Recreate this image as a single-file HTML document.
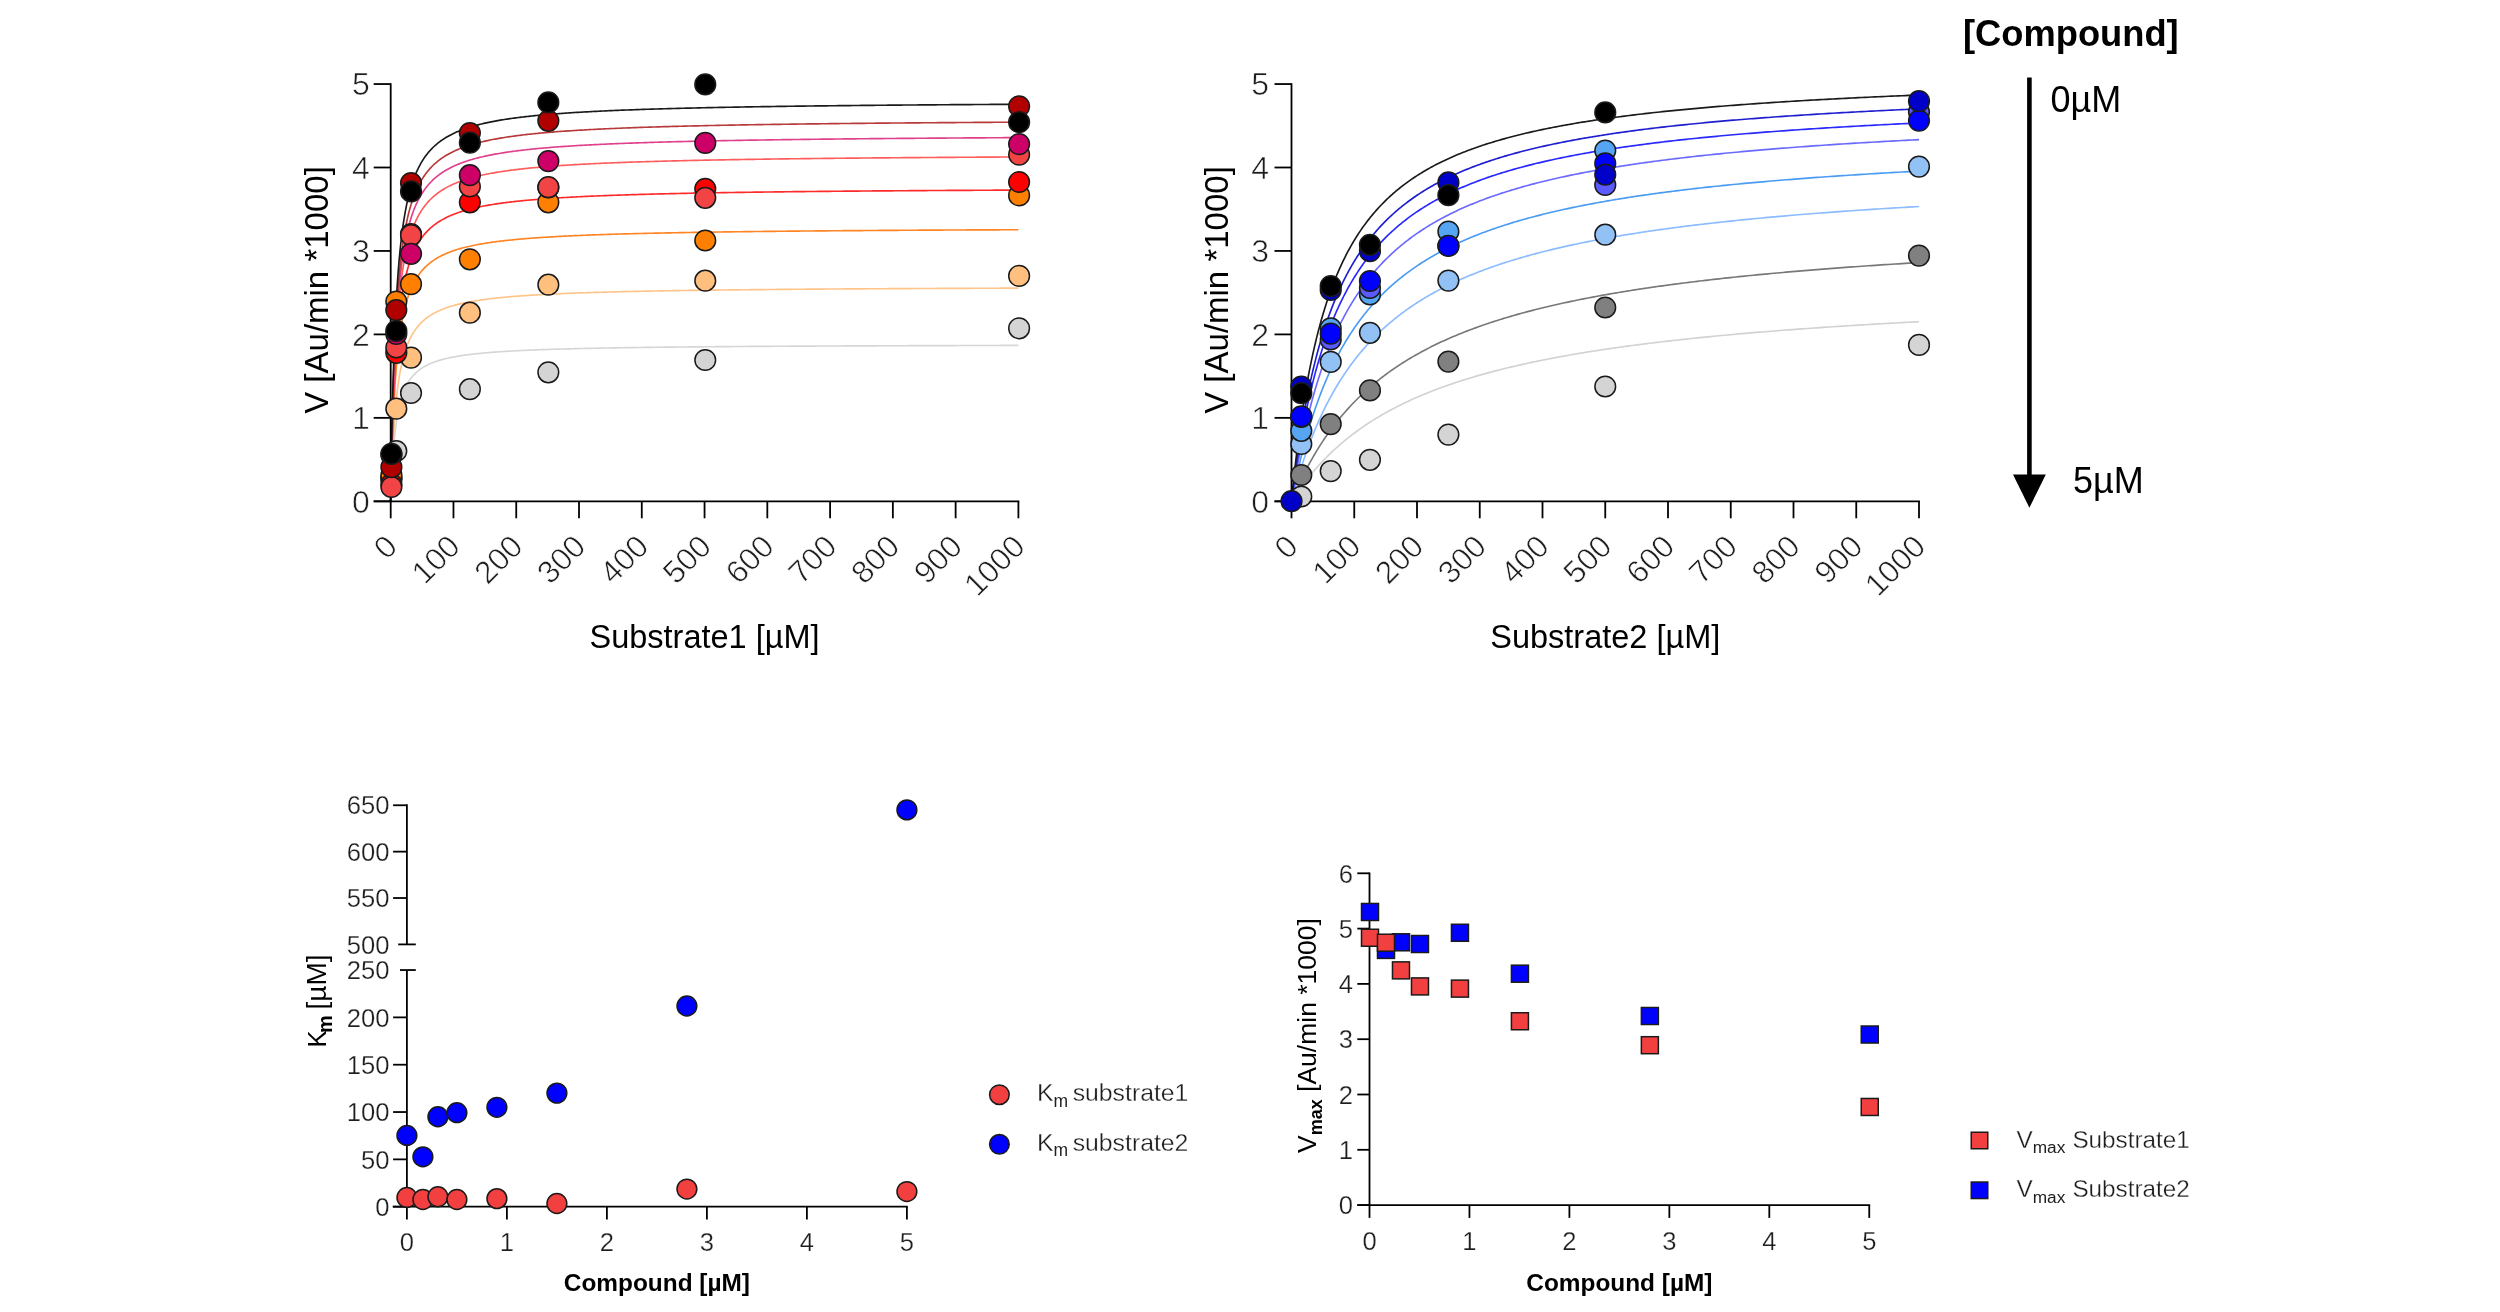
<!DOCTYPE html>
<html><head><meta charset="utf-8"><title>Enzyme kinetics</title>
<style>
html,body{margin:0;padding:0;background:#fff;}
body{width:2500px;height:1312px;overflow:hidden;font-family:"Liberation Sans", sans-serif;}
svg{display:block;will-change:transform;}
</style></head><body>
<svg width="2500" height="1312" viewBox="0 0 2500 1312" font-family='"Liberation Sans", sans-serif'>
<rect width="2500" height="1312" fill="#fff"/>
<polyline fill="none" stroke="#d6d6d6" stroke-width="1.65" stroke-linejoin="round" points="390.7,501.3 390.7,501.27 390.71,501.15 390.71,500.93 390.72,500.61 390.74,500.17 390.76,499.62 390.79,498.95 390.81,498.17 390.85,497.26 390.89,496.24 390.93,495.11 390.98,493.87 391.03,492.52 391.09,491.06 391.16,489.51 391.23,487.86 391.3,486.13 391.38,484.32 391.47,482.43 391.56,480.48 391.66,478.46 391.76,476.39 391.87,474.27 391.99,472.11 392.11,469.91 392.24,467.69 392.37,465.44 392.51,463.18 392.65,460.9 392.8,458.62 392.96,456.34 393.12,454.07 393.29,451.8 393.47,449.55 393.65,447.31 393.84,445.09 394.04,442.89 394.24,440.72 394.45,438.58 394.66,436.47 394.88,434.39 395.11,432.34 395.34,430.33 395.58,428.36 395.83,426.42 396.09,424.52 396.35,422.66 396.61,420.84 396.89,419.06 397.17,417.32 397.46,415.62 397.75,413.95 398.06,412.33 398.36,410.74 398.68,409.2 399,407.69 399.33,406.22 399.67,404.79 400.01,403.39 400.36,402.03 400.72,400.7 401.09,399.41 401.46,398.16 401.84,396.93 402.22,395.74 402.62,394.58 403.02,393.45 403.43,392.35 403.84,391.29 404.27,390.25 404.7,389.23 405.13,388.25 405.58,387.29 406.03,386.36 406.49,385.45 406.96,384.56 407.43,383.71 407.91,382.87 408.4,382.05 408.9,381.26 409.4,380.49 409.91,379.74 410.43,379.01 410.96,378.3 411.49,377.6 412.04,376.93 412.59,376.27 413.14,375.63 413.71,375.01 414.28,374.4 414.86,373.81 415.45,373.23 416.04,372.67 416.65,372.12 417.26,371.59 417.88,371.07 418.5,370.56 419.14,370.07 419.78,369.58 420.43,369.11 421.09,368.65 421.76,368.21 422.43,367.77 423.11,367.35 423.8,366.93 424.5,366.52 425.2,366.13 425.92,365.74 426.64,365.36 427.37,365 428.11,364.64 428.85,364.29 429.6,363.94 430.37,363.61 431.13,363.28 431.91,362.96 432.7,362.65 433.49,362.34 434.29,362.04 435.1,361.75 435.92,361.47 436.75,361.19 437.58,360.91 438.43,360.65 439.28,360.38 440.14,360.13 441,359.88 441.88,359.63 442.76,359.4 443.65,359.16 444.55,358.93 445.46,358.71 446.38,358.49 447.3,358.27 448.24,358.06 449.18,357.85 450.13,357.65 451.09,357.45 452.06,357.26 453.03,357.07 454.01,356.88 455.01,356.7 456.01,356.52 457.02,356.35 458.03,356.17 459.06,356 460.09,355.84 461.14,355.68 462.19,355.52 463.25,355.36 464.32,355.21 465.39,355.06 466.48,354.91 467.57,354.77 468.67,354.62 469.79,354.48 470.9,354.35 472.03,354.21 473.17,354.08 474.31,353.95 475.47,353.82 476.63,353.7 477.8,353.58 478.98,353.46 480.17,353.34 481.37,353.22 482.57,353.11 483.79,353 485.01,352.89 486.24,352.78 487.49,352.67 488.74,352.57 489.99,352.46 491.26,352.36 492.54,352.26 493.82,352.17 495.11,352.07 496.42,351.98 497.73,351.88 499.05,351.79 500.38,351.7 501.71,351.61 503.06,351.53 504.42,351.44 505.78,351.36 507.15,351.27 508.53,351.19 509.93,351.11 511.32,351.03 512.73,350.96 514.15,350.88 515.58,350.8 517.01,350.73 518.46,350.66 519.91,350.59 521.37,350.52 522.84,350.45 524.32,350.38 525.81,350.31 527.31,350.24 528.82,350.18 530.33,350.11 531.86,350.05 533.39,349.99 534.94,349.93 536.49,349.86 538.05,349.8 539.62,349.75 541.2,349.69 542.79,349.63 544.39,349.57 546,349.52 547.61,349.46 549.24,349.41 550.87,349.36 552.51,349.3 554.17,349.25 555.83,349.2 557.5,349.15 559.18,349.1 560.87,349.05 562.57,349 564.28,348.96 565.99,348.91 567.72,348.86 569.46,348.82 571.2,348.77 572.95,348.73 574.72,348.68 576.49,348.64 578.27,348.6 580.06,348.55 581.86,348.51 583.67,348.47 585.49,348.43 587.32,348.39 589.16,348.35 591,348.31 592.86,348.27 594.73,348.23 596.6,348.2 598.48,348.16 600.38,348.12 602.28,348.09 604.19,348.05 606.12,348.02 608.05,347.98 609.99,347.95 611.94,347.91 613.9,347.88 615.87,347.85 617.84,347.81 619.83,347.78 621.83,347.75 623.84,347.72 625.85,347.69 627.88,347.66 629.91,347.63 631.96,347.6 634.01,347.57 636.07,347.54 638.15,347.51 640.23,347.48 642.32,347.45 644.42,347.42 646.53,347.4 648.66,347.37 650.79,347.34 652.93,347.31 655.08,347.29 657.23,347.26 659.4,347.24 661.58,347.21 663.77,347.19 665.97,347.16 668.17,347.14 670.39,347.11 672.62,347.09 674.85,347.06 677.1,347.04 679.35,347.02 681.62,346.99 683.89,346.97 686.17,346.95 688.47,346.93 690.77,346.9 693.09,346.88 695.41,346.86 697.74,346.84 700.08,346.82 702.43,346.8 704.8,346.78 707.17,346.76 709.55,346.74 711.94,346.72 714.34,346.7 716.75,346.68 719.17,346.66 721.6,346.64 724.04,346.62 726.49,346.6 728.95,346.58 731.42,346.56 733.9,346.54 736.38,346.53 738.88,346.51 741.39,346.49 743.91,346.47 746.44,346.46 748.97,346.44 751.52,346.42 754.08,346.4 756.65,346.39 759.22,346.37 761.81,346.36 764.41,346.34 767.01,346.32 769.63,346.31 772.26,346.29 774.89,346.28 777.54,346.26 780.2,346.25 782.86,346.23 785.54,346.22 788.22,346.2 790.92,346.19 793.63,346.17 796.34,346.16 799.07,346.14 801.8,346.13 804.55,346.12 807.3,346.1 810.07,346.09 812.85,346.07 815.63,346.06 818.43,346.05 821.23,346.03 824.05,346.02 826.87,346.01 829.71,346 832.56,345.98 835.41,345.97 838.28,345.96 841.15,345.95 844.04,345.93 846.93,345.92 849.84,345.91 852.76,345.9 855.68,345.88 858.62,345.87 861.56,345.86 864.52,345.85 867.49,345.84 870.46,345.83 873.45,345.82 876.45,345.81 879.45,345.79 882.47,345.78 885.5,345.77 888.54,345.76 891.58,345.75 894.64,345.74 897.71,345.73 900.79,345.72 903.87,345.71 906.97,345.7 910.08,345.69 913.2,345.68 916.33,345.67 919.47,345.66 922.62,345.65 925.77,345.64 928.94,345.63 932.12,345.62 935.31,345.61 938.51,345.6 941.72,345.59 944.95,345.58 948.18,345.57 951.42,345.57 954.67,345.56 957.93,345.55 961.2,345.54 964.48,345.53 967.78,345.52 971.08,345.51 974.39,345.5 977.72,345.5 981.05,345.49 984.39,345.48 987.75,345.47 991.11,345.46 994.49,345.45 997.87,345.45 1001.27,345.44 1004.67,345.43 1008.09,345.42 1011.52,345.42 1014.95,345.41 1018.4,345.4"/>
<polyline fill="none" stroke="#ffc48a" stroke-width="1.65" stroke-linejoin="round" points="390.7,501.3 390.7,501.26 390.71,501.11 390.71,500.85 390.72,500.45 390.74,499.91 390.76,499.23 390.79,498.4 390.81,497.43 390.85,496.31 390.89,495.05 390.93,493.65 390.98,492.1 391.03,490.42 391.09,488.61 391.16,486.67 391.23,484.61 391.3,482.43 391.38,480.15 391.47,477.78 391.56,475.3 391.66,472.75 391.76,470.12 391.87,467.42 391.99,464.66 392.11,461.85 392.24,458.99 392.37,456.1 392.51,453.17 392.65,450.23 392.8,447.26 392.96,444.29 393.12,441.32 393.29,438.35 393.47,435.38 393.65,432.43 393.84,429.49 394.04,426.58 394.24,423.69 394.45,420.83 394.66,418.01 394.88,415.22 395.11,412.46 395.34,409.75 395.58,407.08 395.83,404.45 396.09,401.87 396.35,399.33 396.61,396.85 396.89,394.41 397.17,392.01 397.46,389.67 397.75,387.38 398.06,385.13 398.36,382.94 398.68,380.79 399,378.69 399.33,376.64 399.67,374.64 400.01,372.69 400.36,370.78 400.72,368.92 401.09,367.1 401.46,365.33 401.84,363.6 402.22,361.92 402.62,360.27 403.02,358.67 403.43,357.11 403.84,355.59 404.27,354.11 404.7,352.66 405.13,351.26 405.58,349.88 406.03,348.55 406.49,347.24 406.96,345.98 407.43,344.74 407.91,343.53 408.4,342.36 408.9,341.22 409.4,340.1 409.91,339.02 410.43,337.96 410.96,336.93 411.49,335.92 412.04,334.94 412.59,333.99 413.14,333.05 413.71,332.15 414.28,331.26 414.86,330.4 415.45,329.56 416.04,328.74 416.65,327.94 417.26,327.16 417.88,326.39 418.5,325.65 419.14,324.93 419.78,324.22 420.43,323.53 421.09,322.86 421.76,322.2 422.43,321.56 423.11,320.93 423.8,320.32 424.5,319.72 425.2,319.14 425.92,318.57 426.64,318.01 427.37,317.47 428.11,316.94 428.85,316.42 429.6,315.91 430.37,315.42 431.13,314.93 431.91,314.46 432.7,313.99 433.49,313.54 434.29,313.1 435.1,312.66 435.92,312.24 436.75,311.83 437.58,311.42 438.43,311.02 439.28,310.64 440.14,310.26 441,309.88 441.88,309.52 442.76,309.16 443.65,308.82 444.55,308.47 445.46,308.14 446.38,307.81 447.3,307.49 448.24,307.18 449.18,306.87 450.13,306.57 451.09,306.27 452.06,305.98 453.03,305.7 454.01,305.42 455.01,305.15 456.01,304.88 457.02,304.62 458.03,304.36 459.06,304.11 460.09,303.86 461.14,303.62 462.19,303.38 463.25,303.14 464.32,302.91 465.39,302.69 466.48,302.47 467.57,302.25 468.67,302.04 469.79,301.83 470.9,301.63 472.03,301.42 473.17,301.23 474.31,301.03 475.47,300.84 476.63,300.66 477.8,300.47 478.98,300.29 480.17,300.11 481.37,299.94 482.57,299.77 483.79,299.6 485.01,299.43 486.24,299.27 487.49,299.11 488.74,298.95 489.99,298.8 491.26,298.65 492.54,298.5 493.82,298.35 495.11,298.21 496.42,298.07 497.73,297.93 499.05,297.79 500.38,297.65 501.71,297.52 503.06,297.39 504.42,297.26 505.78,297.14 507.15,297.01 508.53,296.89 509.93,296.77 511.32,296.65 512.73,296.53 514.15,296.42 515.58,296.3 517.01,296.19 518.46,296.08 519.91,295.97 521.37,295.87 522.84,295.76 524.32,295.66 525.81,295.56 527.31,295.46 528.82,295.36 530.33,295.26 531.86,295.17 533.39,295.07 534.94,294.98 536.49,294.89 538.05,294.8 539.62,294.71 541.2,294.62 542.79,294.53 544.39,294.45 546,294.36 547.61,294.28 549.24,294.2 550.87,294.12 552.51,294.04 554.17,293.96 555.83,293.88 557.5,293.81 559.18,293.73 560.87,293.66 562.57,293.59 564.28,293.51 565.99,293.44 567.72,293.37 569.46,293.3 571.2,293.23 572.95,293.17 574.72,293.1 576.49,293.04 578.27,292.97 580.06,292.91 581.86,292.84 583.67,292.78 585.49,292.72 587.32,292.66 589.16,292.6 591,292.54 592.86,292.48 594.73,292.43 596.6,292.37 598.48,292.31 600.38,292.26 602.28,292.2 604.19,292.15 606.12,292.1 608.05,292.04 609.99,291.99 611.94,291.94 613.9,291.89 615.87,291.84 617.84,291.79 619.83,291.74 621.83,291.69 623.84,291.64 625.85,291.6 627.88,291.55 629.91,291.5 631.96,291.46 634.01,291.41 636.07,291.37 638.15,291.33 640.23,291.28 642.32,291.24 644.42,291.2 646.53,291.15 648.66,291.11 650.79,291.07 652.93,291.03 655.08,290.99 657.23,290.95 659.4,290.91 661.58,290.88 663.77,290.84 665.97,290.8 668.17,290.76 670.39,290.72 672.62,290.69 674.85,290.65 677.1,290.62 679.35,290.58 681.62,290.55 683.89,290.51 686.17,290.48 688.47,290.44 690.77,290.41 693.09,290.38 695.41,290.34 697.74,290.31 700.08,290.28 702.43,290.25 704.8,290.22 707.17,290.19 709.55,290.16 711.94,290.13 714.34,290.1 716.75,290.07 719.17,290.04 721.6,290.01 724.04,289.98 726.49,289.95 728.95,289.92 731.42,289.89 733.9,289.87 736.38,289.84 738.88,289.81 741.39,289.78 743.91,289.76 746.44,289.73 748.97,289.71 751.52,289.68 754.08,289.65 756.65,289.63 759.22,289.6 761.81,289.58 764.41,289.56 767.01,289.53 769.63,289.51 772.26,289.48 774.89,289.46 777.54,289.44 780.2,289.41 782.86,289.39 785.54,289.37 788.22,289.35 790.92,289.32 793.63,289.3 796.34,289.28 799.07,289.26 801.8,289.24 804.55,289.22 807.3,289.19 810.07,289.17 812.85,289.15 815.63,289.13 818.43,289.11 821.23,289.09 824.05,289.07 826.87,289.05 829.71,289.03 832.56,289.01 835.41,289 838.28,288.98 841.15,288.96 844.04,288.94 846.93,288.92 849.84,288.9 852.76,288.88 855.68,288.87 858.62,288.85 861.56,288.83 864.52,288.81 867.49,288.8 870.46,288.78 873.45,288.76 876.45,288.75 879.45,288.73 882.47,288.71 885.5,288.7 888.54,288.68 891.58,288.66 894.64,288.65 897.71,288.63 900.79,288.62 903.87,288.6 906.97,288.59 910.08,288.57 913.2,288.55 916.33,288.54 919.47,288.52 922.62,288.51 925.77,288.5 928.94,288.48 932.12,288.47 935.31,288.45 938.51,288.44 941.72,288.42 944.95,288.41 948.18,288.4 951.42,288.38 954.67,288.37 957.93,288.36 961.2,288.34 964.48,288.33 967.78,288.32 971.08,288.3 974.39,288.29 977.72,288.28 981.05,288.26 984.39,288.25 987.75,288.24 991.11,288.23 994.49,288.21 997.87,288.2 1001.27,288.19 1004.67,288.18 1008.09,288.17 1011.52,288.15 1014.95,288.14 1018.4,288.13"/>
<polyline fill="none" stroke="#ff8424" stroke-width="1.65" stroke-linejoin="round" points="390.7,501.3 390.7,501.25 390.71,501.05 390.71,500.68 390.72,500.14 390.74,499.42 390.76,498.5 390.79,497.38 390.81,496.07 390.85,494.56 390.89,492.85 390.93,490.96 390.98,488.87 391.03,486.61 391.09,484.17 391.16,481.56 391.23,478.8 391.3,475.89 391.38,472.84 391.47,469.66 391.56,466.36 391.66,462.95 391.76,459.45 391.87,455.86 391.99,452.2 392.11,448.48 392.24,444.7 392.37,440.88 392.51,437.03 392.65,433.15 392.8,429.26 392.96,425.37 393.12,421.47 393.29,417.59 393.47,413.72 393.65,409.88 393.84,406.06 394.04,402.28 394.24,398.54 394.45,394.85 394.66,391.2 394.88,387.6 395.11,384.06 395.34,380.57 395.58,377.14 395.83,373.78 396.09,370.48 396.35,367.24 396.61,364.06 396.89,360.96 397.17,357.91 397.46,354.94 397.75,352.03 398.06,349.19 398.36,346.41 398.68,343.7 399,341.05 399.33,338.46 399.67,335.94 400.01,333.49 400.36,331.09 400.72,328.75 401.09,326.48 401.46,324.26 401.84,322.1 402.22,319.99 402.62,317.94 403.02,315.94 403.43,314 403.84,312.1 404.27,310.26 404.7,308.46 405.13,306.72 405.58,305.01 406.03,303.36 406.49,301.74 406.96,300.17 407.43,298.64 407.91,297.15 408.4,295.7 408.9,294.29 409.4,292.91 409.91,291.57 410.43,290.27 410.96,289 411.49,287.76 412.04,286.55 412.59,285.38 413.14,284.23 413.71,283.12 414.28,282.03 414.86,280.97 415.45,279.94 416.04,278.94 416.65,277.95 417.26,277 417.88,276.07 418.5,275.16 419.14,274.27 419.78,273.4 420.43,272.56 421.09,271.74 421.76,270.93 422.43,270.15 423.11,269.39 423.8,268.64 424.5,267.91 425.2,267.2 425.92,266.51 426.64,265.83 427.37,265.16 428.11,264.52 428.85,263.89 429.6,263.27 430.37,262.66 431.13,262.08 431.91,261.5 432.7,260.94 433.49,260.39 434.29,259.85 435.1,259.32 435.92,258.81 436.75,258.3 437.58,257.81 438.43,257.33 439.28,256.86 440.14,256.4 441,255.95 441.88,255.5 442.76,255.07 443.65,254.65 444.55,254.24 445.46,253.83 446.38,253.43 447.3,253.04 448.24,252.66 449.18,252.29 450.13,251.93 451.09,251.57 452.06,251.22 453.03,250.87 454.01,250.54 455.01,250.21 456.01,249.88 457.02,249.56 458.03,249.25 459.06,248.95 460.09,248.65 461.14,248.36 462.19,248.07 463.25,247.79 464.32,247.51 465.39,247.24 466.48,246.97 467.57,246.71 468.67,246.45 469.79,246.2 470.9,245.95 472.03,245.71 473.17,245.47 474.31,245.24 475.47,245.01 476.63,244.78 477.8,244.56 478.98,244.34 480.17,244.13 481.37,243.92 482.57,243.71 483.79,243.51 485.01,243.31 486.24,243.11 487.49,242.92 488.74,242.73 489.99,242.54 491.26,242.36 492.54,242.18 493.82,242 495.11,241.83 496.42,241.66 497.73,241.49 499.05,241.32 500.38,241.16 501.71,241 503.06,240.84 504.42,240.69 505.78,240.54 507.15,240.39 508.53,240.24 509.93,240.09 511.32,239.95 512.73,239.81 514.15,239.67 515.58,239.54 517.01,239.4 518.46,239.27 519.91,239.14 521.37,239.01 522.84,238.88 524.32,238.76 525.81,238.64 527.31,238.52 528.82,238.4 530.33,238.28 531.86,238.17 533.39,238.05 534.94,237.94 536.49,237.83 538.05,237.72 539.62,237.61 541.2,237.51 542.79,237.4 544.39,237.3 546,237.2 547.61,237.1 549.24,237 550.87,236.91 552.51,236.81 554.17,236.72 555.83,236.62 557.5,236.53 559.18,236.44 560.87,236.35 562.57,236.27 564.28,236.18 565.99,236.09 567.72,236.01 569.46,235.93 571.2,235.84 572.95,235.76 574.72,235.68 576.49,235.6 578.27,235.53 580.06,235.45 581.86,235.37 583.67,235.3 585.49,235.23 587.32,235.15 589.16,235.08 591,235.01 592.86,234.94 594.73,234.87 596.6,234.8 598.48,234.74 600.38,234.67 602.28,234.6 604.19,234.54 606.12,234.48 608.05,234.41 609.99,234.35 611.94,234.29 613.9,234.23 615.87,234.17 617.84,234.11 619.83,234.05 621.83,233.99 623.84,233.93 625.85,233.88 627.88,233.82 629.91,233.77 631.96,233.71 634.01,233.66 636.07,233.6 638.15,233.55 640.23,233.5 642.32,233.45 644.42,233.4 646.53,233.35 648.66,233.3 650.79,233.25 652.93,233.2 655.08,233.15 657.23,233.1 659.4,233.06 661.58,233.01 663.77,232.96 665.97,232.92 668.17,232.87 670.39,232.83 672.62,232.79 674.85,232.74 677.1,232.7 679.35,232.66 681.62,232.62 683.89,232.57 686.17,232.53 688.47,232.49 690.77,232.45 693.09,232.41 695.41,232.37 697.74,232.34 700.08,232.3 702.43,232.26 704.8,232.22 707.17,232.18 709.55,232.15 711.94,232.11 714.34,232.08 716.75,232.04 719.17,232 721.6,231.97 724.04,231.93 726.49,231.9 728.95,231.87 731.42,231.83 733.9,231.8 736.38,231.77 738.88,231.73 741.39,231.7 743.91,231.67 746.44,231.64 748.97,231.61 751.52,231.58 754.08,231.55 756.65,231.52 759.22,231.49 761.81,231.46 764.41,231.43 767.01,231.4 769.63,231.37 772.26,231.34 774.89,231.31 777.54,231.29 780.2,231.26 782.86,231.23 785.54,231.2 788.22,231.18 790.92,231.15 793.63,231.12 796.34,231.1 799.07,231.07 801.8,231.05 804.55,231.02 807.3,231 810.07,230.97 812.85,230.95 815.63,230.92 818.43,230.9 821.23,230.87 824.05,230.85 826.87,230.83 829.71,230.8 832.56,230.78 835.41,230.76 838.28,230.73 841.15,230.71 844.04,230.69 846.93,230.67 849.84,230.64 852.76,230.62 855.68,230.6 858.62,230.58 861.56,230.56 864.52,230.54 867.49,230.52 870.46,230.5 873.45,230.48 876.45,230.46 879.45,230.44 882.47,230.42 885.5,230.4 888.54,230.38 891.58,230.36 894.64,230.34 897.71,230.32 900.79,230.3 903.87,230.28 906.97,230.26 910.08,230.25 913.2,230.23 916.33,230.21 919.47,230.19 922.62,230.17 925.77,230.16 928.94,230.14 932.12,230.12 935.31,230.1 938.51,230.09 941.72,230.07 944.95,230.05 948.18,230.04 951.42,230.02 954.67,230.01 957.93,229.99 961.2,229.97 964.48,229.96 967.78,229.94 971.08,229.93 974.39,229.91 977.72,229.89 981.05,229.88 984.39,229.86 987.75,229.85 991.11,229.83 994.49,229.82 997.87,229.81 1001.27,229.79 1004.67,229.78 1008.09,229.76 1011.52,229.75 1014.95,229.73 1018.4,229.72"/>
<polyline fill="none" stroke="#ff2a2a" stroke-width="1.65" stroke-linejoin="round" points="390.7,501.3 390.7,501.24 390.71,501.01 390.71,500.6 390.72,499.99 390.74,499.16 390.76,498.12 390.79,496.85 390.81,495.36 390.85,493.65 390.89,491.72 390.93,489.57 390.98,487.2 391.03,484.63 391.09,481.86 391.16,478.9 391.23,475.76 391.3,472.45 391.38,468.99 391.47,465.37 391.56,461.62 391.66,457.75 391.76,453.76 391.87,449.68 391.99,445.52 392.11,441.28 392.24,436.97 392.37,432.62 392.51,428.23 392.65,423.81 392.8,419.38 392.96,414.93 393.12,410.49 393.29,406.06 393.47,401.65 393.65,397.26 393.84,392.9 394.04,388.58 394.24,384.31 394.45,380.08 394.66,375.91 394.88,371.79 395.11,367.74 395.34,363.75 395.58,359.83 395.83,355.97 396.09,352.19 396.35,348.48 396.61,344.84 396.89,341.28 397.17,337.79 397.46,334.38 397.75,331.04 398.06,327.78 398.36,324.59 398.68,321.48 399,318.44 399.33,315.47 399.67,312.58 400.01,309.76 400.36,307 400.72,304.32 401.09,301.7 401.46,299.15 401.84,296.67 402.22,294.25 402.62,291.89 403.02,289.59 403.43,287.35 403.84,285.17 404.27,283.05 404.7,280.98 405.13,278.97 405.58,277.01 406.03,275.1 406.49,273.24 406.96,271.43 407.43,269.67 407.91,267.95 408.4,266.28 408.9,264.66 409.4,263.07 409.91,261.53 410.43,260.02 410.96,258.56 411.49,257.13 412.04,255.74 412.59,254.39 413.14,253.07 413.71,251.78 414.28,250.53 414.86,249.31 415.45,248.12 416.04,246.95 416.65,245.82 417.26,244.72 417.88,243.64 418.5,242.59 419.14,241.57 419.78,240.57 420.43,239.6 421.09,238.65 421.76,237.72 422.43,236.82 423.11,235.93 423.8,235.07 424.5,234.23 425.2,233.41 425.92,232.61 426.64,231.82 427.37,231.06 428.11,230.31 428.85,229.58 429.6,228.87 430.37,228.17 431.13,227.49 431.91,226.83 432.7,226.17 433.49,225.54 434.29,224.92 435.1,224.31 435.92,223.71 436.75,223.13 437.58,222.56 438.43,222.01 439.28,221.46 440.14,220.93 441,220.41 441.88,219.9 442.76,219.4 443.65,218.91 444.55,218.43 445.46,217.96 446.38,217.5 447.3,217.06 448.24,216.62 449.18,216.18 450.13,215.76 451.09,215.35 452.06,214.94 453.03,214.54 454.01,214.15 455.01,213.77 456.01,213.4 457.02,213.03 458.03,212.67 459.06,212.32 460.09,211.97 461.14,211.63 462.19,211.3 463.25,210.97 464.32,210.65 465.39,210.34 466.48,210.03 467.57,209.73 468.67,209.43 469.79,209.14 470.9,208.85 472.03,208.57 473.17,208.3 474.31,208.03 475.47,207.76 476.63,207.5 477.8,207.24 478.98,206.99 480.17,206.74 481.37,206.5 482.57,206.26 483.79,206.03 485.01,205.79 486.24,205.57 487.49,205.35 488.74,205.13 489.99,204.91 491.26,204.7 492.54,204.49 493.82,204.29 495.11,204.08 496.42,203.89 497.73,203.69 499.05,203.5 500.38,203.31 501.71,203.13 503.06,202.94 504.42,202.77 505.78,202.59 507.15,202.42 508.53,202.24 509.93,202.08 511.32,201.91 512.73,201.75 514.15,201.59 515.58,201.43 517.01,201.27 518.46,201.12 519.91,200.97 521.37,200.82 522.84,200.68 524.32,200.53 525.81,200.39 527.31,200.25 528.82,200.11 530.33,199.98 531.86,199.85 533.39,199.71 534.94,199.58 536.49,199.46 538.05,199.33 539.62,199.21 541.2,199.09 542.79,198.96 544.39,198.85 546,198.73 547.61,198.61 549.24,198.5 550.87,198.39 552.51,198.28 554.17,198.17 555.83,198.06 557.5,197.96 559.18,197.85 560.87,197.75 562.57,197.65 564.28,197.55 565.99,197.45 567.72,197.35 569.46,197.25 571.2,197.16 572.95,197.06 574.72,196.97 576.49,196.88 578.27,196.79 580.06,196.7 581.86,196.62 583.67,196.53 585.49,196.44 587.32,196.36 589.16,196.28 591,196.19 592.86,196.11 594.73,196.03 596.6,195.95 598.48,195.88 600.38,195.8 602.28,195.72 604.19,195.65 606.12,195.57 608.05,195.5 609.99,195.43 611.94,195.36 613.9,195.29 615.87,195.22 617.84,195.15 619.83,195.08 621.83,195.01 623.84,194.95 625.85,194.88 627.88,194.82 629.91,194.75 631.96,194.69 634.01,194.63 636.07,194.57 638.15,194.5 640.23,194.44 642.32,194.38 644.42,194.33 646.53,194.27 648.66,194.21 650.79,194.15 652.93,194.1 655.08,194.04 657.23,193.99 659.4,193.93 661.58,193.88 663.77,193.83 665.97,193.77 668.17,193.72 670.39,193.67 672.62,193.62 674.85,193.57 677.1,193.52 679.35,193.47 681.62,193.42 683.89,193.37 686.17,193.33 688.47,193.28 690.77,193.23 693.09,193.19 695.41,193.14 697.74,193.1 700.08,193.05 702.43,193.01 704.8,192.96 707.17,192.92 709.55,192.88 711.94,192.84 714.34,192.8 716.75,192.75 719.17,192.71 721.6,192.67 724.04,192.63 726.49,192.59 728.95,192.55 731.42,192.52 733.9,192.48 736.38,192.44 738.88,192.4 741.39,192.36 743.91,192.33 746.44,192.29 748.97,192.25 751.52,192.22 754.08,192.18 756.65,192.15 759.22,192.11 761.81,192.08 764.41,192.05 767.01,192.01 769.63,191.98 772.26,191.95 774.89,191.91 777.54,191.88 780.2,191.85 782.86,191.82 785.54,191.79 788.22,191.75 790.92,191.72 793.63,191.69 796.34,191.66 799.07,191.63 801.8,191.6 804.55,191.57 807.3,191.54 810.07,191.52 812.85,191.49 815.63,191.46 818.43,191.43 821.23,191.4 824.05,191.38 826.87,191.35 829.71,191.32 832.56,191.29 835.41,191.27 838.28,191.24 841.15,191.22 844.04,191.19 846.93,191.16 849.84,191.14 852.76,191.11 855.68,191.09 858.62,191.06 861.56,191.04 864.52,191.02 867.49,190.99 870.46,190.97 873.45,190.94 876.45,190.92 879.45,190.9 882.47,190.87 885.5,190.85 888.54,190.83 891.58,190.81 894.64,190.79 897.71,190.76 900.79,190.74 903.87,190.72 906.97,190.7 910.08,190.68 913.2,190.66 916.33,190.64 919.47,190.61 922.62,190.59 925.77,190.57 928.94,190.55 932.12,190.53 935.31,190.51 938.51,190.49 941.72,190.47 944.95,190.46 948.18,190.44 951.42,190.42 954.67,190.4 957.93,190.38 961.2,190.36 964.48,190.34 967.78,190.32 971.08,190.31 974.39,190.29 977.72,190.27 981.05,190.25 984.39,190.24 987.75,190.22 991.11,190.2 994.49,190.18 997.87,190.17 1001.27,190.15 1004.67,190.13 1008.09,190.12 1011.52,190.1 1014.95,190.08 1018.4,190.07"/>
<polyline fill="none" stroke="#ff5c5c" stroke-width="1.65" stroke-linejoin="round" points="390.7,501.3 390.7,501.23 390.71,500.99 390.71,500.54 390.72,499.86 390.74,498.96 390.76,497.82 390.79,496.43 390.81,494.8 390.85,492.92 390.89,490.8 390.93,488.45 390.98,485.85 391.03,483.04 391.09,480 391.16,476.76 391.23,473.31 391.3,469.68 391.38,465.88 391.47,461.91 391.56,457.79 391.66,453.54 391.76,449.17 391.87,444.68 391.99,440.1 392.11,435.44 392.24,430.71 392.37,425.93 392.51,421.1 392.65,416.24 392.8,411.35 392.96,406.46 393.12,401.57 393.29,396.68 393.47,391.82 393.65,386.98 393.84,382.18 394.04,377.41 394.24,372.69 394.45,368.03 394.66,363.42 394.88,358.88 395.11,354.4 395.34,350 395.58,345.66 395.83,341.4 396.09,337.22 396.35,333.11 396.61,329.09 396.89,325.15 397.17,321.29 397.46,317.51 397.75,313.81 398.06,310.2 398.36,306.67 398.68,303.22 399,299.85 399.33,296.56 399.67,293.35 400.01,290.22 400.36,287.17 400.72,284.19 401.09,281.29 401.46,278.46 401.84,275.7 402.22,273.01 402.62,270.39 403.02,267.84 403.43,265.36 403.84,262.94 404.27,260.58 404.7,258.28 405.13,256.04 405.58,253.87 406.03,251.75 406.49,249.68 406.96,247.67 407.43,245.71 407.91,243.8 408.4,241.94 408.9,240.13 409.4,238.37 409.91,236.65 410.43,234.98 410.96,233.35 411.49,231.76 412.04,230.21 412.59,228.7 413.14,227.23 413.71,225.8 414.28,224.41 414.86,223.05 415.45,221.72 416.04,220.43 416.65,219.17 417.26,217.94 417.88,216.74 418.5,215.57 419.14,214.43 419.78,213.32 420.43,212.23 421.09,211.18 421.76,210.14 422.43,209.13 423.11,208.15 423.8,207.19 424.5,206.25 425.2,205.34 425.92,204.44 426.64,203.57 427.37,202.72 428.11,201.88 428.85,201.07 429.6,200.27 430.37,199.5 431.13,198.74 431.91,198 432.7,197.27 433.49,196.56 434.29,195.87 435.1,195.19 435.92,194.53 436.75,193.88 437.58,193.24 438.43,192.62 439.28,192.01 440.14,191.42 441,190.84 441.88,190.27 442.76,189.71 443.65,189.17 444.55,188.63 445.46,188.11 446.38,187.6 447.3,187.1 448.24,186.61 449.18,186.12 450.13,185.65 451.09,185.19 452.06,184.74 453.03,184.29 454.01,183.86 455.01,183.43 456.01,183.02 457.02,182.61 458.03,182.2 459.06,181.81 460.09,181.42 461.14,181.05 462.19,180.67 463.25,180.31 464.32,179.95 465.39,179.6 466.48,179.26 467.57,178.92 468.67,178.59 469.79,178.26 470.9,177.94 472.03,177.63 473.17,177.32 474.31,177.02 475.47,176.72 476.63,176.43 477.8,176.14 478.98,175.86 480.17,175.58 481.37,175.31 482.57,175.05 483.79,174.78 485.01,174.53 486.24,174.27 487.49,174.02 488.74,173.78 489.99,173.54 491.26,173.3 492.54,173.07 493.82,172.84 495.11,172.62 496.42,172.4 497.73,172.18 499.05,171.96 500.38,171.75 501.71,171.55 503.06,171.34 504.42,171.14 505.78,170.95 507.15,170.75 508.53,170.56 509.93,170.37 511.32,170.19 512.73,170.01 514.15,169.83 515.58,169.65 517.01,169.48 518.46,169.31 519.91,169.14 521.37,168.97 522.84,168.81 524.32,168.65 525.81,168.49 527.31,168.33 528.82,168.18 530.33,168.03 531.86,167.88 533.39,167.73 534.94,167.59 536.49,167.45 538.05,167.31 539.62,167.17 541.2,167.03 542.79,166.9 544.39,166.76 546,166.63 547.61,166.5 549.24,166.38 550.87,166.25 552.51,166.13 554.17,166.01 555.83,165.89 557.5,165.77 559.18,165.65 560.87,165.54 562.57,165.42 564.28,165.31 565.99,165.2 567.72,165.09 569.46,164.98 571.2,164.88 572.95,164.77 574.72,164.67 576.49,164.57 578.27,164.47 580.06,164.37 581.86,164.27 583.67,164.17 585.49,164.08 587.32,163.99 589.16,163.89 591,163.8 592.86,163.71 594.73,163.62 596.6,163.53 598.48,163.45 600.38,163.36 602.28,163.27 604.19,163.19 606.12,163.11 608.05,163.03 609.99,162.95 611.94,162.87 613.9,162.79 615.87,162.71 617.84,162.63 619.83,162.56 621.83,162.48 623.84,162.41 625.85,162.33 627.88,162.26 629.91,162.19 631.96,162.12 634.01,162.05 636.07,161.98 638.15,161.91 640.23,161.84 642.32,161.78 644.42,161.71 646.53,161.65 648.66,161.58 650.79,161.52 652.93,161.46 655.08,161.39 657.23,161.33 659.4,161.27 661.58,161.21 663.77,161.15 665.97,161.09 668.17,161.04 670.39,160.98 672.62,160.92 674.85,160.87 677.1,160.81 679.35,160.76 681.62,160.7 683.89,160.65 686.17,160.6 688.47,160.54 690.77,160.49 693.09,160.44 695.41,160.39 697.74,160.34 700.08,160.29 702.43,160.24 704.8,160.19 707.17,160.14 709.55,160.1 711.94,160.05 714.34,160 716.75,159.96 719.17,159.91 721.6,159.87 724.04,159.82 726.49,159.78 728.95,159.73 731.42,159.69 733.9,159.65 736.38,159.6 738.88,159.56 741.39,159.52 743.91,159.48 746.44,159.44 748.97,159.4 751.52,159.36 754.08,159.32 756.65,159.28 759.22,159.24 761.81,159.2 764.41,159.16 767.01,159.13 769.63,159.09 772.26,159.05 774.89,159.02 777.54,158.98 780.2,158.94 782.86,158.91 785.54,158.87 788.22,158.84 790.92,158.8 793.63,158.77 796.34,158.74 799.07,158.7 801.8,158.67 804.55,158.64 807.3,158.6 810.07,158.57 812.85,158.54 815.63,158.51 818.43,158.48 821.23,158.45 824.05,158.42 826.87,158.38 829.71,158.35 832.56,158.32 835.41,158.3 838.28,158.27 841.15,158.24 844.04,158.21 846.93,158.18 849.84,158.15 852.76,158.12 855.68,158.1 858.62,158.07 861.56,158.04 864.52,158.01 867.49,157.99 870.46,157.96 873.45,157.93 876.45,157.91 879.45,157.88 882.47,157.86 885.5,157.83 888.54,157.81 891.58,157.78 894.64,157.76 897.71,157.73 900.79,157.71 903.87,157.68 906.97,157.66 910.08,157.63 913.2,157.61 916.33,157.59 919.47,157.56 922.62,157.54 925.77,157.52 928.94,157.5 932.12,157.47 935.31,157.45 938.51,157.43 941.72,157.41 944.95,157.39 948.18,157.36 951.42,157.34 954.67,157.32 957.93,157.3 961.2,157.28 964.48,157.26 967.78,157.24 971.08,157.22 974.39,157.2 977.72,157.18 981.05,157.16 984.39,157.14 987.75,157.12 991.11,157.1 994.49,157.08 997.87,157.06 1001.27,157.04 1004.67,157.03 1008.09,157.01 1011.52,156.99 1014.95,156.97 1018.4,156.95"/>
<polyline fill="none" stroke="#e0408c" stroke-width="1.65" stroke-linejoin="round" points="390.7,501.3 390.7,501.23 390.71,500.97 390.71,500.49 390.72,499.78 390.74,498.83 390.76,497.62 390.79,496.16 390.81,494.43 390.85,492.45 390.89,490.21 390.93,487.72 390.98,484.99 391.03,482.01 391.09,478.8 391.16,475.38 391.23,471.74 391.3,467.91 391.38,463.89 391.47,459.7 391.56,455.35 391.66,450.86 391.76,446.24 391.87,441.5 391.99,436.67 392.11,431.74 392.24,426.75 392.37,421.69 392.51,416.59 392.65,411.46 392.8,406.3 392.96,401.13 393.12,395.97 393.29,390.81 393.47,385.67 393.65,380.56 393.84,375.48 394.04,370.45 394.24,365.47 394.45,360.55 394.66,355.68 394.88,350.88 395.11,346.15 395.34,341.5 395.58,336.92 395.83,332.42 396.09,328 396.35,323.67 396.61,319.42 396.89,315.25 397.17,311.18 397.46,307.18 397.75,303.28 398.06,299.47 398.36,295.74 398.68,292.09 399,288.54 399.33,285.06 399.67,281.67 400.01,278.37 400.36,275.14 400.72,272 401.09,268.93 401.46,265.94 401.84,263.03 402.22,260.19 402.62,257.42 403.02,254.73 403.43,252.1 403.84,249.55 404.27,247.06 404.7,244.63 405.13,242.27 405.58,239.97 406.03,237.73 406.49,235.55 406.96,233.42 407.43,231.35 407.91,229.34 408.4,227.37 408.9,225.46 409.4,223.6 409.91,221.78 410.43,220.02 410.96,218.29 411.49,216.62 412.04,214.98 412.59,213.39 413.14,211.84 413.71,210.33 414.28,208.85 414.86,207.42 415.45,206.02 416.04,204.65 416.65,203.32 417.26,202.02 417.88,200.76 418.5,199.52 419.14,198.32 419.78,197.14 420.43,196 421.09,194.88 421.76,193.79 422.43,192.72 423.11,191.68 423.8,190.67 424.5,189.68 425.2,188.71 425.92,187.77 426.64,186.85 427.37,185.94 428.11,185.07 428.85,184.21 429.6,183.37 430.37,182.54 431.13,181.74 431.91,180.96 432.7,180.19 433.49,179.44 434.29,178.71 435.1,177.99 435.92,177.29 436.75,176.61 437.58,175.94 438.43,175.28 439.28,174.64 440.14,174.01 441,173.4 441.88,172.8 442.76,172.21 443.65,171.63 444.55,171.07 445.46,170.52 446.38,169.98 447.3,169.45 448.24,168.93 449.18,168.42 450.13,167.92 451.09,167.44 452.06,166.96 453.03,166.49 454.01,166.03 455.01,165.58 456.01,165.14 457.02,164.71 458.03,164.28 459.06,163.87 460.09,163.46 461.14,163.06 462.19,162.66 463.25,162.28 464.32,161.9 465.39,161.53 466.48,161.17 467.57,160.81 468.67,160.46 469.79,160.12 470.9,159.78 472.03,159.45 473.17,159.12 474.31,158.8 475.47,158.49 476.63,158.18 477.8,157.88 478.98,157.58 480.17,157.29 481.37,157 482.57,156.72 483.79,156.44 485.01,156.17 486.24,155.9 487.49,155.64 488.74,155.38 489.99,155.13 491.26,154.88 492.54,154.63 493.82,154.39 495.11,154.15 496.42,153.92 497.73,153.69 499.05,153.47 500.38,153.24 501.71,153.02 503.06,152.81 504.42,152.6 505.78,152.39 507.15,152.19 508.53,151.98 509.93,151.79 511.32,151.59 512.73,151.4 514.15,151.21 515.58,151.02 517.01,150.84 518.46,150.66 519.91,150.48 521.37,150.31 522.84,150.13 524.32,149.96 525.81,149.8 527.31,149.63 528.82,149.47 530.33,149.31 531.86,149.15 533.39,149 534.94,148.84 536.49,148.69 538.05,148.55 539.62,148.4 541.2,148.26 542.79,148.11 544.39,147.97 546,147.84 547.61,147.7 549.24,147.57 550.87,147.43 552.51,147.3 554.17,147.17 555.83,147.05 557.5,146.92 559.18,146.8 560.87,146.68 562.57,146.56 564.28,146.44 565.99,146.32 567.72,146.21 569.46,146.09 571.2,145.98 572.95,145.87 574.72,145.76 576.49,145.66 578.27,145.55 580.06,145.44 581.86,145.34 583.67,145.24 585.49,145.14 587.32,145.04 589.16,144.94 591,144.84 592.86,144.75 594.73,144.65 596.6,144.56 598.48,144.47 600.38,144.38 602.28,144.29 604.19,144.2 606.12,144.11 608.05,144.03 609.99,143.94 611.94,143.86 613.9,143.77 615.87,143.69 617.84,143.61 619.83,143.53 621.83,143.45 623.84,143.37 625.85,143.29 627.88,143.22 629.91,143.14 631.96,143.07 634.01,142.99 636.07,142.92 638.15,142.85 640.23,142.78 642.32,142.71 644.42,142.64 646.53,142.57 648.66,142.5 650.79,142.43 652.93,142.37 655.08,142.3 657.23,142.24 659.4,142.17 661.58,142.11 663.77,142.05 665.97,141.99 668.17,141.92 670.39,141.86 672.62,141.8 674.85,141.74 677.1,141.69 679.35,141.63 681.62,141.57 683.89,141.51 686.17,141.46 688.47,141.4 690.77,141.35 693.09,141.29 695.41,141.24 697.74,141.19 700.08,141.14 702.43,141.08 704.8,141.03 707.17,140.98 709.55,140.93 711.94,140.88 714.34,140.83 716.75,140.78 719.17,140.73 721.6,140.69 724.04,140.64 726.49,140.59 728.95,140.55 731.42,140.5 733.9,140.46 736.38,140.41 738.88,140.37 741.39,140.32 743.91,140.28 746.44,140.24 748.97,140.19 751.52,140.15 754.08,140.11 756.65,140.07 759.22,140.03 761.81,139.99 764.41,139.95 767.01,139.91 769.63,139.87 772.26,139.83 774.89,139.79 777.54,139.75 780.2,139.71 782.86,139.68 785.54,139.64 788.22,139.6 790.92,139.57 793.63,139.53 796.34,139.49 799.07,139.46 801.8,139.42 804.55,139.39 807.3,139.36 810.07,139.32 812.85,139.29 815.63,139.25 818.43,139.22 821.23,139.19 824.05,139.16 826.87,139.12 829.71,139.09 832.56,139.06 835.41,139.03 838.28,139 841.15,138.97 844.04,138.94 846.93,138.91 849.84,138.88 852.76,138.85 855.68,138.82 858.62,138.79 861.56,138.76 864.52,138.73 867.49,138.7 870.46,138.67 873.45,138.65 876.45,138.62 879.45,138.59 882.47,138.56 885.5,138.54 888.54,138.51 891.58,138.48 894.64,138.46 897.71,138.43 900.79,138.41 903.87,138.38 906.97,138.36 910.08,138.33 913.2,138.31 916.33,138.28 919.47,138.26 922.62,138.23 925.77,138.21 928.94,138.19 932.12,138.16 935.31,138.14 938.51,138.12 941.72,138.09 944.95,138.07 948.18,138.05 951.42,138.02 954.67,138 957.93,137.98 961.2,137.96 964.48,137.94 967.78,137.91 971.08,137.89 974.39,137.87 977.72,137.85 981.05,137.83 984.39,137.81 987.75,137.79 991.11,137.77 994.49,137.75 997.87,137.73 1001.27,137.71 1004.67,137.69 1008.09,137.67 1011.52,137.65 1014.95,137.63 1018.4,137.61"/>
<polyline fill="none" stroke="#b83a3a" stroke-width="1.65" stroke-linejoin="round" points="390.7,501.3 390.7,501.22 390.71,500.95 390.71,500.44 390.72,499.69 390.74,498.67 390.76,497.39 390.79,495.83 390.81,493.99 390.85,491.89 390.89,489.51 390.93,486.86 390.98,483.95 391.03,480.79 391.09,477.39 391.16,473.75 391.23,469.89 391.3,465.82 391.38,461.56 391.47,457.12 391.56,452.52 391.66,447.76 391.76,442.88 391.87,437.87 391.99,432.76 392.11,427.56 392.24,422.29 392.37,416.95 392.51,411.57 392.65,406.16 392.8,400.73 392.96,395.29 393.12,389.86 393.29,384.43 393.47,379.04 393.65,373.67 393.84,368.34 394.04,363.07 394.24,357.85 394.45,352.69 394.66,347.59 394.88,342.57 395.11,337.62 395.34,332.76 395.58,327.97 395.83,323.28 396.09,318.67 396.35,314.14 396.61,309.71 396.89,305.37 397.17,301.13 397.46,296.97 397.75,292.91 398.06,288.94 398.36,285.06 398.68,281.28 399,277.58 399.33,273.97 399.67,270.46 400.01,267.02 400.36,263.68 400.72,260.42 401.09,257.24 401.46,254.14 401.84,251.13 402.22,248.19 402.62,245.32 403.02,242.54 403.43,239.82 403.84,237.18 404.27,234.6 404.7,232.09 405.13,229.65 405.58,227.28 406.03,224.96 406.49,222.71 406.96,220.51 407.43,218.38 407.91,216.3 408.4,214.27 408.9,212.3 409.4,210.38 409.91,208.51 410.43,206.69 410.96,204.92 411.49,203.19 412.04,201.5 412.59,199.86 413.14,198.27 413.71,196.71 414.28,195.19 414.86,193.71 415.45,192.27 416.04,190.87 416.65,189.5 417.26,188.16 417.88,186.86 418.5,185.59 419.14,184.36 419.78,183.15 420.43,181.97 421.09,180.82 421.76,179.7 422.43,178.61 423.11,177.54 423.8,176.5 424.5,175.48 425.2,174.49 425.92,173.52 426.64,172.57 427.37,171.64 428.11,170.74 428.85,169.86 429.6,169 430.37,168.16 431.13,167.33 431.91,166.53 432.7,165.74 433.49,164.97 434.29,164.22 435.1,163.49 435.92,162.77 436.75,162.07 437.58,161.38 438.43,160.71 439.28,160.05 440.14,159.41 441,158.78 441.88,158.16 442.76,157.56 443.65,156.97 444.55,156.39 445.46,155.82 446.38,155.27 447.3,154.72 448.24,154.19 449.18,153.67 450.13,153.16 451.09,152.66 452.06,152.17 453.03,151.69 454.01,151.22 455.01,150.76 456.01,150.31 457.02,149.87 458.03,149.43 459.06,149.01 460.09,148.59 461.14,148.18 462.19,147.78 463.25,147.38 464.32,147 465.39,146.62 466.48,146.24 467.57,145.88 468.67,145.52 469.79,145.17 470.9,144.82 472.03,144.48 473.17,144.15 474.31,143.82 475.47,143.5 476.63,143.19 477.8,142.88 478.98,142.57 480.17,142.27 481.37,141.98 482.57,141.69 483.79,141.41 485.01,141.13 486.24,140.86 487.49,140.59 488.74,140.32 489.99,140.06 491.26,139.81 492.54,139.56 493.82,139.31 495.11,139.07 496.42,138.83 497.73,138.59 499.05,138.36 500.38,138.14 501.71,137.91 503.06,137.69 504.42,137.48 505.78,137.26 507.15,137.05 508.53,136.85 509.93,136.64 511.32,136.45 512.73,136.25 514.15,136.06 515.58,135.86 517.01,135.68 518.46,135.49 519.91,135.31 521.37,135.13 522.84,134.96 524.32,134.78 525.81,134.61 527.31,134.44 528.82,134.28 530.33,134.11 531.86,133.95 533.39,133.79 534.94,133.64 536.49,133.48 538.05,133.33 539.62,133.18 541.2,133.04 542.79,132.89 544.39,132.75 546,132.61 547.61,132.47 549.24,132.33 550.87,132.2 552.51,132.06 554.17,131.93 555.83,131.8 557.5,131.67 559.18,131.55 560.87,131.42 562.57,131.3 564.28,131.18 565.99,131.06 567.72,130.94 569.46,130.83 571.2,130.71 572.95,130.6 574.72,130.49 576.49,130.38 578.27,130.27 580.06,130.16 581.86,130.06 583.67,129.95 585.49,129.85 587.32,129.75 589.16,129.65 591,129.55 592.86,129.45 594.73,129.35 596.6,129.26 598.48,129.17 600.38,129.07 602.28,128.98 604.19,128.89 606.12,128.8 608.05,128.71 609.99,128.63 611.94,128.54 613.9,128.45 615.87,128.37 617.84,128.29 619.83,128.21 621.83,128.12 623.84,128.04 625.85,127.97 627.88,127.89 629.91,127.81 631.96,127.73 634.01,127.66 636.07,127.58 638.15,127.51 640.23,127.44 642.32,127.37 644.42,127.3 646.53,127.23 648.66,127.16 650.79,127.09 652.93,127.02 655.08,126.95 657.23,126.89 659.4,126.82 661.58,126.76 663.77,126.69 665.97,126.63 668.17,126.57 670.39,126.51 672.62,126.44 674.85,126.38 677.1,126.32 679.35,126.26 681.62,126.21 683.89,126.15 686.17,126.09 688.47,126.03 690.77,125.98 693.09,125.92 695.41,125.87 697.74,125.81 700.08,125.76 702.43,125.71 704.8,125.65 707.17,125.6 709.55,125.55 711.94,125.5 714.34,125.45 716.75,125.4 719.17,125.35 721.6,125.3 724.04,125.25 726.49,125.21 728.95,125.16 731.42,125.11 733.9,125.07 736.38,125.02 738.88,124.98 741.39,124.93 743.91,124.89 746.44,124.84 748.97,124.8 751.52,124.76 754.08,124.71 756.65,124.67 759.22,124.63 761.81,124.59 764.41,124.55 767.01,124.51 769.63,124.47 772.26,124.43 774.89,124.39 777.54,124.35 780.2,124.31 782.86,124.27 785.54,124.23 788.22,124.2 790.92,124.16 793.63,124.12 796.34,124.09 799.07,124.05 801.8,124.01 804.55,123.98 807.3,123.94 810.07,123.91 812.85,123.87 815.63,123.84 818.43,123.81 821.23,123.77 824.05,123.74 826.87,123.71 829.71,123.67 832.56,123.64 835.41,123.61 838.28,123.58 841.15,123.55 844.04,123.52 846.93,123.48 849.84,123.45 852.76,123.42 855.68,123.39 858.62,123.36 861.56,123.33 864.52,123.31 867.49,123.28 870.46,123.25 873.45,123.22 876.45,123.19 879.45,123.16 882.47,123.14 885.5,123.11 888.54,123.08 891.58,123.05 894.64,123.03 897.71,123 900.79,122.97 903.87,122.95 906.97,122.92 910.08,122.9 913.2,122.87 916.33,122.85 919.47,122.82 922.62,122.8 925.77,122.77 928.94,122.75 932.12,122.72 935.31,122.7 938.51,122.68 941.72,122.65 944.95,122.63 948.18,122.61 951.42,122.58 954.67,122.56 957.93,122.54 961.2,122.52 964.48,122.49 967.78,122.47 971.08,122.45 974.39,122.43 977.72,122.41 981.05,122.39 984.39,122.36 987.75,122.34 991.11,122.32 994.49,122.3 997.87,122.28 1001.27,122.26 1004.67,122.24 1008.09,122.22 1011.52,122.2 1014.95,122.18 1018.4,122.16"/>
<polyline fill="none" stroke="#1a1a1a" stroke-width="1.65" stroke-linejoin="round" points="390.7,501.3 390.7,501.22 390.71,500.91 390.71,500.35 390.72,499.52 390.74,498.39 390.76,496.98 390.79,495.26 390.81,493.23 390.85,490.91 390.89,488.29 390.93,485.37 390.98,482.17 391.03,478.7 391.09,474.96 391.16,470.96 391.23,466.74 391.3,462.29 391.38,457.63 391.47,452.78 391.56,447.76 391.66,442.58 391.76,437.26 391.87,431.83 391.99,426.28 392.11,420.65 392.24,414.95 392.37,409.2 392.51,403.4 392.65,397.58 392.8,391.74 392.96,385.91 393.12,380.09 393.29,374.29 393.47,368.52 393.65,362.8 393.84,357.14 394.04,351.53 394.24,345.99 394.45,340.52 394.66,335.13 394.88,329.83 395.11,324.61 395.34,319.48 395.58,314.45 395.83,309.51 396.09,304.68 396.35,299.94 396.61,295.3 396.89,290.77 397.17,286.33 397.46,282 397.75,277.77 398.06,273.64 398.36,269.61 398.68,265.68 399,261.85 399.33,258.11 399.67,254.47 400.01,250.93 400.36,247.47 400.72,244.11 401.09,240.83 401.46,237.64 401.84,234.54 402.22,231.52 402.62,228.58 403.02,225.71 403.43,222.93 403.84,220.22 404.27,217.58 404.7,215.02 405.13,212.52 405.58,210.09 406.03,207.73 406.49,205.43 406.96,203.19 407.43,201.01 407.91,198.89 408.4,196.83 408.9,194.82 409.4,192.87 409.91,190.97 410.43,189.12 410.96,187.32 411.49,185.56 412.04,183.86 412.59,182.19 413.14,180.57 413.71,179 414.28,177.46 414.86,175.96 415.45,174.51 416.04,173.09 416.65,171.7 417.26,170.35 417.88,169.04 418.5,167.76 419.14,166.51 419.78,165.29 420.43,164.1 421.09,162.94 421.76,161.81 422.43,160.71 423.11,159.63 423.8,158.58 424.5,157.56 425.2,156.56 425.92,155.58 426.64,154.63 427.37,153.7 428.11,152.79 428.85,151.9 429.6,151.04 430.37,150.19 431.13,149.36 431.91,148.56 432.7,147.77 433.49,147 434.29,146.24 435.1,145.5 435.92,144.78 436.75,144.08 437.58,143.39 438.43,142.71 439.28,142.06 440.14,141.41 441,140.78 441.88,140.16 442.76,139.56 443.65,138.97 444.55,138.39 445.46,137.82 446.38,137.27 447.3,136.72 448.24,136.19 449.18,135.67 450.13,135.16 451.09,134.66 452.06,134.17 453.03,133.69 454.01,133.22 455.01,132.76 456.01,132.3 457.02,131.86 458.03,131.43 459.06,131 460.09,130.58 461.14,130.18 462.19,129.77 463.25,129.38 464.32,128.99 465.39,128.61 466.48,128.24 467.57,127.88 468.67,127.52 469.79,127.17 470.9,126.82 472.03,126.49 473.17,126.15 474.31,125.83 475.47,125.51 476.63,125.19 477.8,124.88 478.98,124.58 480.17,124.28 481.37,123.99 482.57,123.7 483.79,123.42 485.01,123.14 486.24,122.87 487.49,122.6 488.74,122.34 489.99,122.08 491.26,121.82 492.54,121.57 493.82,121.32 495.11,121.08 496.42,120.84 497.73,120.61 499.05,120.38 500.38,120.15 501.71,119.93 503.06,119.71 504.42,119.5 505.78,119.28 507.15,119.08 508.53,118.87 509.93,118.67 511.32,118.47 512.73,118.27 514.15,118.08 515.58,117.89 517.01,117.71 518.46,117.52 519.91,117.34 521.37,117.16 522.84,116.99 524.32,116.81 525.81,116.64 527.31,116.48 528.82,116.31 530.33,116.15 531.86,115.99 533.39,115.83 534.94,115.68 536.49,115.52 538.05,115.37 539.62,115.22 541.2,115.08 542.79,114.93 544.39,114.79 546,114.65 547.61,114.51 549.24,114.37 550.87,114.24 552.51,114.11 554.17,113.98 555.83,113.85 557.5,113.72 559.18,113.6 560.87,113.47 562.57,113.35 564.28,113.23 565.99,113.11 567.72,112.99 569.46,112.88 571.2,112.77 572.95,112.65 574.72,112.54 576.49,112.43 578.27,112.33 580.06,112.22 581.86,112.11 583.67,112.01 585.49,111.91 587.32,111.81 589.16,111.71 591,111.61 592.86,111.51 594.73,111.42 596.6,111.32 598.48,111.23 600.38,111.14 602.28,111.04 604.19,110.95 606.12,110.87 608.05,110.78 609.99,110.69 611.94,110.61 613.9,110.52 615.87,110.44 617.84,110.36 619.83,110.27 621.83,110.19 623.84,110.11 625.85,110.04 627.88,109.96 629.91,109.88 631.96,109.81 634.01,109.73 636.07,109.66 638.15,109.58 640.23,109.51 642.32,109.44 644.42,109.37 646.53,109.3 648.66,109.23 650.79,109.16 652.93,109.1 655.08,109.03 657.23,108.96 659.4,108.9 661.58,108.83 663.77,108.77 665.97,108.71 668.17,108.65 670.39,108.58 672.62,108.52 674.85,108.46 677.1,108.4 679.35,108.35 681.62,108.29 683.89,108.23 686.17,108.17 688.47,108.12 690.77,108.06 693.09,108.01 695.41,107.95 697.74,107.9 700.08,107.84 702.43,107.79 704.8,107.74 707.17,107.69 709.55,107.64 711.94,107.59 714.34,107.54 716.75,107.49 719.17,107.44 721.6,107.39 724.04,107.34 726.49,107.3 728.95,107.25 731.42,107.2 733.9,107.16 736.38,107.11 738.88,107.07 741.39,107.02 743.91,106.98 746.44,106.93 748.97,106.89 751.52,106.85 754.08,106.8 756.65,106.76 759.22,106.72 761.81,106.68 764.41,106.64 767.01,106.6 769.63,106.56 772.26,106.52 774.89,106.48 777.54,106.44 780.2,106.4 782.86,106.37 785.54,106.33 788.22,106.29 790.92,106.25 793.63,106.22 796.34,106.18 799.07,106.15 801.8,106.11 804.55,106.08 807.3,106.04 810.07,106.01 812.85,105.97 815.63,105.94 818.43,105.9 821.23,105.87 824.05,105.84 826.87,105.81 829.71,105.77 832.56,105.74 835.41,105.71 838.28,105.68 841.15,105.65 844.04,105.62 846.93,105.59 849.84,105.56 852.76,105.53 855.68,105.5 858.62,105.47 861.56,105.44 864.52,105.41 867.49,105.38 870.46,105.35 873.45,105.32 876.45,105.29 879.45,105.27 882.47,105.24 885.5,105.21 888.54,105.19 891.58,105.16 894.64,105.13 897.71,105.11 900.79,105.08 903.87,105.05 906.97,105.03 910.08,105 913.2,104.98 916.33,104.95 919.47,104.93 922.62,104.9 925.77,104.88 928.94,104.85 932.12,104.83 935.31,104.81 938.51,104.78 941.72,104.76 944.95,104.74 948.18,104.71 951.42,104.69 954.67,104.67 957.93,104.65 961.2,104.62 964.48,104.6 967.78,104.58 971.08,104.56 974.39,104.54 977.72,104.52 981.05,104.5 984.39,104.47 987.75,104.45 991.11,104.43 994.49,104.41 997.87,104.39 1001.27,104.37 1004.67,104.35 1008.09,104.33 1011.52,104.31 1014.95,104.29 1018.4,104.27"/>
<line x1="390.7" y1="83.15" x2="390.7" y2="502.2" stroke="#000" stroke-width="1.8" stroke-linecap="butt"/>
<line x1="373.7" y1="501.3" x2="1019.3" y2="501.3" stroke="#000" stroke-width="1.8" stroke-linecap="butt"/>
<line x1="373.7" y1="501.3" x2="390.7" y2="501.3" stroke="#000" stroke-width="1.8" stroke-linecap="butt"/>
<text x="369.7" y="512.7" font-size="32" text-anchor="end" fill="#1e1e1e" font-weight="normal" stroke="#fff" stroke-width="0.6" >0</text>
<line x1="373.7" y1="417.85" x2="390.7" y2="417.85" stroke="#000" stroke-width="1.8" stroke-linecap="butt"/>
<text x="369.7" y="429.25" font-size="32" text-anchor="end" fill="#1e1e1e" font-weight="normal" stroke="#fff" stroke-width="0.6" >1</text>
<line x1="373.7" y1="334.4" x2="390.7" y2="334.4" stroke="#000" stroke-width="1.8" stroke-linecap="butt"/>
<text x="369.7" y="345.8" font-size="32" text-anchor="end" fill="#1e1e1e" font-weight="normal" stroke="#fff" stroke-width="0.6" >2</text>
<line x1="373.7" y1="250.95" x2="390.7" y2="250.95" stroke="#000" stroke-width="1.8" stroke-linecap="butt"/>
<text x="369.7" y="262.35" font-size="32" text-anchor="end" fill="#1e1e1e" font-weight="normal" stroke="#fff" stroke-width="0.6" >3</text>
<line x1="373.7" y1="167.5" x2="390.7" y2="167.5" stroke="#000" stroke-width="1.8" stroke-linecap="butt"/>
<text x="369.7" y="178.9" font-size="32" text-anchor="end" fill="#1e1e1e" font-weight="normal" stroke="#fff" stroke-width="0.6" >4</text>
<line x1="373.7" y1="84.05" x2="390.7" y2="84.05" stroke="#000" stroke-width="1.8" stroke-linecap="butt"/>
<text x="369.7" y="95.45" font-size="32" text-anchor="end" fill="#1e1e1e" font-weight="normal" stroke="#fff" stroke-width="0.6" >5</text>
<line x1="390.7" y1="501.3" x2="390.7" y2="518.3" stroke="#000" stroke-width="1.8" stroke-linecap="butt"/>
<text x="399.2" y="548.3" font-size="31.5" text-anchor="end" fill="#1e1e1e" font-weight="normal" stroke="#fff" stroke-width="0.6" transform="rotate(-45 399.2 548.3)">0</text>
<line x1="453.47" y1="501.3" x2="453.47" y2="518.3" stroke="#000" stroke-width="1.8" stroke-linecap="butt"/>
<text x="461.97" y="548.3" font-size="31.5" text-anchor="end" fill="#1e1e1e" font-weight="normal" stroke="#fff" stroke-width="0.6" transform="rotate(-45 461.97 548.3)">100</text>
<line x1="516.24" y1="501.3" x2="516.24" y2="518.3" stroke="#000" stroke-width="1.8" stroke-linecap="butt"/>
<text x="524.74" y="548.3" font-size="31.5" text-anchor="end" fill="#1e1e1e" font-weight="normal" stroke="#fff" stroke-width="0.6" transform="rotate(-45 524.74 548.3)">200</text>
<line x1="579.01" y1="501.3" x2="579.01" y2="518.3" stroke="#000" stroke-width="1.8" stroke-linecap="butt"/>
<text x="587.51" y="548.3" font-size="31.5" text-anchor="end" fill="#1e1e1e" font-weight="normal" stroke="#fff" stroke-width="0.6" transform="rotate(-45 587.51 548.3)">300</text>
<line x1="641.78" y1="501.3" x2="641.78" y2="518.3" stroke="#000" stroke-width="1.8" stroke-linecap="butt"/>
<text x="650.28" y="548.3" font-size="31.5" text-anchor="end" fill="#1e1e1e" font-weight="normal" stroke="#fff" stroke-width="0.6" transform="rotate(-45 650.28 548.3)">400</text>
<line x1="704.55" y1="501.3" x2="704.55" y2="518.3" stroke="#000" stroke-width="1.8" stroke-linecap="butt"/>
<text x="713.05" y="548.3" font-size="31.5" text-anchor="end" fill="#1e1e1e" font-weight="normal" stroke="#fff" stroke-width="0.6" transform="rotate(-45 713.05 548.3)">500</text>
<line x1="767.32" y1="501.3" x2="767.32" y2="518.3" stroke="#000" stroke-width="1.8" stroke-linecap="butt"/>
<text x="775.82" y="548.3" font-size="31.5" text-anchor="end" fill="#1e1e1e" font-weight="normal" stroke="#fff" stroke-width="0.6" transform="rotate(-45 775.82 548.3)">600</text>
<line x1="830.09" y1="501.3" x2="830.09" y2="518.3" stroke="#000" stroke-width="1.8" stroke-linecap="butt"/>
<text x="838.59" y="548.3" font-size="31.5" text-anchor="end" fill="#1e1e1e" font-weight="normal" stroke="#fff" stroke-width="0.6" transform="rotate(-45 838.59 548.3)">700</text>
<line x1="892.86" y1="501.3" x2="892.86" y2="518.3" stroke="#000" stroke-width="1.8" stroke-linecap="butt"/>
<text x="901.36" y="548.3" font-size="31.5" text-anchor="end" fill="#1e1e1e" font-weight="normal" stroke="#fff" stroke-width="0.6" transform="rotate(-45 901.36 548.3)">800</text>
<line x1="955.63" y1="501.3" x2="955.63" y2="518.3" stroke="#000" stroke-width="1.8" stroke-linecap="butt"/>
<text x="964.13" y="548.3" font-size="31.5" text-anchor="end" fill="#1e1e1e" font-weight="normal" stroke="#fff" stroke-width="0.6" transform="rotate(-45 964.13 548.3)">900</text>
<line x1="1018.4" y1="501.3" x2="1018.4" y2="518.3" stroke="#000" stroke-width="1.8" stroke-linecap="butt"/>
<text x="1026.9" y="548.3" font-size="31.5" text-anchor="end" fill="#1e1e1e" font-weight="normal" stroke="#fff" stroke-width="0.6" transform="rotate(-45 1026.9 548.3)">1000</text>
<text x="704.55" y="647.5" font-size="32.5" text-anchor="middle" fill="#000" font-weight="normal" >Substrate1 [µM]</text>
<text x="328" y="290" font-size="33" text-anchor="middle" fill="#000" font-weight="normal" transform="rotate(-90 328 290)">V [Au/min *1000]</text>
<circle cx="391.4" cy="479" r="10.35" fill="#d4d4d4" stroke="#1a1a1a" stroke-width="1.5"/>
<circle cx="396.3" cy="451" r="10.35" fill="#d4d4d4" stroke="#1a1a1a" stroke-width="1.5"/>
<circle cx="411.02" cy="393" r="10.35" fill="#d4d4d4" stroke="#1a1a1a" stroke-width="1.5"/>
<circle cx="469.86" cy="389.2" r="10.35" fill="#d4d4d4" stroke="#1a1a1a" stroke-width="1.5"/>
<circle cx="548.33" cy="372.3" r="10.35" fill="#d4d4d4" stroke="#1a1a1a" stroke-width="1.5"/>
<circle cx="705.25" cy="360" r="10.35" fill="#d4d4d4" stroke="#1a1a1a" stroke-width="1.5"/>
<circle cx="1019.1" cy="328.3" r="10.35" fill="#d4d4d4" stroke="#1a1a1a" stroke-width="1.5"/>
<circle cx="391.4" cy="478" r="10.35" fill="#ffbf7f" stroke="#1a1a1a" stroke-width="1.5"/>
<circle cx="396.3" cy="408.7" r="10.35" fill="#ffbf7f" stroke="#1a1a1a" stroke-width="1.5"/>
<circle cx="411.02" cy="357.6" r="10.35" fill="#ffbf7f" stroke="#1a1a1a" stroke-width="1.5"/>
<circle cx="469.86" cy="312.7" r="10.35" fill="#ffbf7f" stroke="#1a1a1a" stroke-width="1.5"/>
<circle cx="548.33" cy="284.7" r="10.35" fill="#ffbf7f" stroke="#1a1a1a" stroke-width="1.5"/>
<circle cx="705.25" cy="280.7" r="10.35" fill="#ffbf7f" stroke="#1a1a1a" stroke-width="1.5"/>
<circle cx="1019.1" cy="275.9" r="10.35" fill="#ffbf7f" stroke="#1a1a1a" stroke-width="1.5"/>
<circle cx="391.4" cy="475" r="10.35" fill="#ff8000" stroke="#1a1a1a" stroke-width="1.5"/>
<circle cx="396.3" cy="301.6" r="10.35" fill="#ff8000" stroke="#1a1a1a" stroke-width="1.5"/>
<circle cx="411.02" cy="284.2" r="10.35" fill="#ff8000" stroke="#1a1a1a" stroke-width="1.5"/>
<circle cx="469.86" cy="259.3" r="10.35" fill="#ff8000" stroke="#1a1a1a" stroke-width="1.5"/>
<circle cx="548.33" cy="202.3" r="10.35" fill="#ff8000" stroke="#1a1a1a" stroke-width="1.5"/>
<circle cx="705.25" cy="240.5" r="10.35" fill="#ff8000" stroke="#1a1a1a" stroke-width="1.5"/>
<circle cx="1019.1" cy="195.4" r="10.35" fill="#ff8000" stroke="#1a1a1a" stroke-width="1.5"/>
<circle cx="391.4" cy="484" r="10.35" fill="#ff0000" stroke="#1a1a1a" stroke-width="1.5"/>
<circle cx="396.3" cy="352.8" r="10.35" fill="#ff0000" stroke="#1a1a1a" stroke-width="1.5"/>
<circle cx="411.02" cy="234" r="10.35" fill="#ff0000" stroke="#1a1a1a" stroke-width="1.5"/>
<circle cx="469.86" cy="202.3" r="10.35" fill="#ff0000" stroke="#1a1a1a" stroke-width="1.5"/>
<circle cx="548.33" cy="187.5" r="10.35" fill="#ff0000" stroke="#1a1a1a" stroke-width="1.5"/>
<circle cx="705.25" cy="188.8" r="10.35" fill="#ff0000" stroke="#1a1a1a" stroke-width="1.5"/>
<circle cx="1019.1" cy="182" r="10.35" fill="#ff0000" stroke="#1a1a1a" stroke-width="1.5"/>
<circle cx="391.4" cy="487" r="10.35" fill="#f24444" stroke="#1a1a1a" stroke-width="1.5"/>
<circle cx="396.3" cy="347.5" r="10.35" fill="#f24444" stroke="#1a1a1a" stroke-width="1.5"/>
<circle cx="411.02" cy="235.2" r="10.35" fill="#f24444" stroke="#1a1a1a" stroke-width="1.5"/>
<circle cx="469.86" cy="186.5" r="10.35" fill="#f24444" stroke="#1a1a1a" stroke-width="1.5"/>
<circle cx="548.33" cy="187.1" r="10.35" fill="#f24444" stroke="#1a1a1a" stroke-width="1.5"/>
<circle cx="705.25" cy="197.8" r="10.35" fill="#f24444" stroke="#1a1a1a" stroke-width="1.5"/>
<circle cx="1019.1" cy="154.6" r="10.35" fill="#f24444" stroke="#1a1a1a" stroke-width="1.5"/>
<circle cx="391.4" cy="455" r="10.35" fill="#cc0066" stroke="#1a1a1a" stroke-width="1.5"/>
<circle cx="396.3" cy="334" r="10.35" fill="#cc0066" stroke="#1a1a1a" stroke-width="1.5"/>
<circle cx="411.02" cy="253.8" r="10.35" fill="#cc0066" stroke="#1a1a1a" stroke-width="1.5"/>
<circle cx="469.86" cy="175.2" r="10.35" fill="#cc0066" stroke="#1a1a1a" stroke-width="1.5"/>
<circle cx="548.33" cy="161.1" r="10.35" fill="#cc0066" stroke="#1a1a1a" stroke-width="1.5"/>
<circle cx="705.25" cy="142.9" r="10.35" fill="#cc0066" stroke="#1a1a1a" stroke-width="1.5"/>
<circle cx="1019.1" cy="144.1" r="10.35" fill="#cc0066" stroke="#1a1a1a" stroke-width="1.5"/>
<circle cx="391.4" cy="467.2" r="10.35" fill="#b00000" stroke="#1a1a1a" stroke-width="1.5"/>
<circle cx="396.3" cy="310.1" r="10.35" fill="#b00000" stroke="#1a1a1a" stroke-width="1.5"/>
<circle cx="411.02" cy="183" r="10.35" fill="#b00000" stroke="#1a1a1a" stroke-width="1.5"/>
<circle cx="469.86" cy="133.1" r="10.35" fill="#b00000" stroke="#1a1a1a" stroke-width="1.5"/>
<circle cx="548.33" cy="120.8" r="10.35" fill="#b00000" stroke="#1a1a1a" stroke-width="1.5"/>
<circle cx="1019.1" cy="106.3" r="10.35" fill="#b00000" stroke="#1a1a1a" stroke-width="1.5"/>
<circle cx="391.4" cy="453.8" r="10.35" fill="#000000" stroke="#1a1a1a" stroke-width="1.5"/>
<circle cx="396.3" cy="330.9" r="10.35" fill="#000000" stroke="#1a1a1a" stroke-width="1.5"/>
<circle cx="411.02" cy="191.4" r="10.35" fill="#000000" stroke="#1a1a1a" stroke-width="1.5"/>
<circle cx="469.86" cy="142.7" r="10.35" fill="#000000" stroke="#1a1a1a" stroke-width="1.5"/>
<circle cx="548.33" cy="102.4" r="10.35" fill="#000000" stroke="#1a1a1a" stroke-width="1.5"/>
<circle cx="705.25" cy="84.4" r="10.35" fill="#000000" stroke="#1a1a1a" stroke-width="1.5"/>
<circle cx="1019.1" cy="122.2" r="10.35" fill="#000000" stroke="#1a1a1a" stroke-width="1.5"/>
<polyline fill="none" stroke="#d2d2d2" stroke-width="1.65" stroke-linejoin="round" points="1291.5,501.3 1291.5,501.3 1291.51,501.29 1291.51,501.28 1291.52,501.26 1291.54,501.24 1291.56,501.2 1291.59,501.17 1291.61,501.12 1291.65,501.07 1291.69,501 1291.73,500.94 1291.78,500.86 1291.83,500.78 1291.89,500.68 1291.96,500.58 1292.03,500.47 1292.1,500.35 1292.18,500.23 1292.27,500.09 1292.36,499.95 1292.46,499.8 1292.56,499.64 1292.67,499.47 1292.79,499.29 1292.91,499.1 1293.03,498.91 1293.17,498.7 1293.31,498.49 1293.45,498.27 1293.6,498.04 1293.76,497.8 1293.92,497.55 1294.09,497.29 1294.27,497.02 1294.45,496.75 1294.64,496.46 1294.84,496.17 1295.04,495.87 1295.24,495.55 1295.46,495.23 1295.68,494.91 1295.91,494.57 1296.14,494.22 1296.38,493.87 1296.63,493.5 1296.88,493.13 1297.15,492.75 1297.41,492.36 1297.69,491.97 1297.97,491.56 1298.26,491.15 1298.55,490.73 1298.85,490.3 1299.16,489.86 1299.48,489.41 1299.8,488.96 1300.13,488.5 1300.47,488.03 1300.81,487.55 1301.16,487.07 1301.52,486.57 1301.88,486.08 1302.26,485.57 1302.63,485.06 1303.02,484.54 1303.41,484.01 1303.82,483.47 1304.22,482.93 1304.64,482.38 1305.06,481.83 1305.49,481.27 1305.93,480.7 1306.37,480.13 1306.82,479.55 1307.28,478.96 1307.75,478.37 1308.22,477.77 1308.71,477.17 1309.2,476.56 1309.69,475.95 1310.2,475.33 1310.71,474.71 1311.23,474.08 1311.75,473.44 1312.29,472.8 1312.83,472.16 1313.38,471.51 1313.94,470.86 1314.5,470.2 1315.07,469.54 1315.65,468.87 1316.24,468.2 1316.84,467.53 1317.44,466.85 1318.05,466.17 1318.67,465.48 1319.3,464.79 1319.93,464.1 1320.57,463.41 1321.22,462.71 1321.88,462.01 1322.55,461.3 1323.22,460.59 1323.9,459.89 1324.59,459.17 1325.29,458.46 1325.99,457.74 1326.71,457.02 1327.43,456.3 1328.16,455.58 1328.89,454.85 1329.64,454.13 1330.39,453.4 1331.15,452.67 1331.92,451.94 1332.7,451.21 1333.48,450.47 1334.28,449.74 1335.08,449 1335.89,448.26 1336.71,447.53 1337.53,446.79 1338.37,446.05 1339.21,445.31 1340.06,444.57 1340.92,443.83 1341.79,443.09 1342.66,442.35 1343.55,441.61 1344.44,440.86 1345.34,440.12 1346.24,439.38 1347.16,438.64 1348.09,437.9 1349.02,437.16 1349.96,436.42 1350.91,435.68 1351.87,434.94 1352.84,434.21 1353.81,433.47 1354.79,432.73 1355.79,432 1356.79,431.26 1357.79,430.53 1358.81,429.8 1359.84,429.07 1360.87,428.34 1361.91,427.61 1362.96,426.88 1364.02,426.16 1365.09,425.43 1366.17,424.71 1367.25,423.99 1368.35,423.27 1369.45,422.55 1370.56,421.84 1371.68,421.12 1372.81,420.41 1373.94,419.7 1375.09,418.99 1376.24,418.29 1377.4,417.58 1378.58,416.88 1379.75,416.18 1380.94,415.48 1382.14,414.79 1383.35,414.09 1384.56,413.4 1385.78,412.71 1387.01,412.03 1388.25,411.34 1389.5,410.66 1390.76,409.98 1392.03,409.31 1393.3,408.63 1394.59,407.96 1395.88,407.29 1397.18,406.62 1398.49,405.96 1399.81,405.3 1401.14,404.64 1402.48,403.98 1403.82,403.33 1405.18,402.68 1406.54,402.03 1407.92,401.39 1409.3,400.74 1410.69,400.1 1412.09,399.47 1413.49,398.83 1414.91,398.2 1416.34,397.57 1417.77,396.95 1419.22,396.33 1420.67,395.71 1422.13,395.09 1423.6,394.48 1425.08,393.87 1426.57,393.26 1428.07,392.65 1429.57,392.05 1431.09,391.45 1432.61,390.85 1434.15,390.26 1435.69,389.67 1437.24,389.08 1438.8,388.5 1440.37,387.92 1441.95,387.34 1443.54,386.77 1445.14,386.19 1446.75,385.62 1448.36,385.06 1449.99,384.49 1451.62,383.93 1453.26,383.38 1454.92,382.82 1456.58,382.27 1458.25,381.72 1459.93,381.18 1461.62,380.64 1463.31,380.1 1465.02,379.56 1466.74,379.03 1468.46,378.5 1470.2,377.97 1471.94,377.44 1473.7,376.92 1475.46,376.4 1477.23,375.89 1479.01,375.38 1480.8,374.87 1482.6,374.36 1484.41,373.86 1486.23,373.36 1488.06,372.86 1489.89,372.36 1491.74,371.87 1493.6,371.38 1495.46,370.89 1497.34,370.41 1499.22,369.93 1501.11,369.45 1503.01,368.98 1504.93,368.5 1506.85,368.03 1508.78,367.57 1510.72,367.1 1512.67,366.64 1514.63,366.18 1516.59,365.73 1518.57,365.28 1520.56,364.83 1522.56,364.38 1524.56,363.93 1526.58,363.49 1528.6,363.05 1530.64,362.62 1532.68,362.18 1534.73,361.75 1536.8,361.32 1538.87,360.9 1540.95,360.47 1543.04,360.05 1545.14,359.63 1547.25,359.22 1549.37,358.8 1551.5,358.39 1553.64,357.99 1555.79,357.58 1557.95,357.18 1560.12,356.78 1562.29,356.38 1564.48,355.98 1566.68,355.59 1568.88,355.2 1571.1,354.81 1573.33,354.43 1575.56,354.04 1577.81,353.66 1580.06,353.28 1582.32,352.91 1584.6,352.53 1586.88,352.16 1589.17,351.79 1591.48,351.43 1593.79,351.06 1596.11,350.7 1598.44,350.34 1600.78,349.98 1603.14,349.63 1605.5,349.27 1607.87,348.92 1610.25,348.57 1612.64,348.23 1615.04,347.88 1617.45,347.54 1619.87,347.2 1622.29,346.86 1624.73,346.53 1627.18,346.19 1629.64,345.86 1632.11,345.53 1634.59,345.21 1637.07,344.88 1639.57,344.56 1642.08,344.24 1644.6,343.92 1647.12,343.6 1649.66,343.29 1652.21,342.97 1654.76,342.66 1657.33,342.35 1659.91,342.05 1662.49,341.74 1665.09,341.44 1667.69,341.14 1670.31,340.84 1672.94,340.54 1675.57,340.24 1678.22,339.95 1680.87,339.66 1683.54,339.37 1686.21,339.08 1688.9,338.79 1691.59,338.51 1694.3,338.22 1697.01,337.94 1699.74,337.66 1702.47,337.39 1705.22,337.11 1707.97,336.84 1710.74,336.57 1713.51,336.29 1716.3,336.03 1719.09,335.76 1721.9,335.49 1724.71,335.23 1727.53,334.97 1730.37,334.71 1733.21,334.45 1736.07,334.19 1738.93,333.93 1741.81,333.68 1744.69,333.43 1747.59,333.18 1750.49,332.93 1753.41,332.68 1756.33,332.43 1759.27,332.19 1762.21,331.95 1765.17,331.7 1768.14,331.46 1771.11,331.23 1774.1,330.99 1777.09,330.75 1780.1,330.52 1783.11,330.29 1786.14,330.05 1789.18,329.82 1792.22,329.6 1795.28,329.37 1798.35,329.14 1801.42,328.92 1804.51,328.7 1807.61,328.47 1810.71,328.25 1813.83,328.04 1816.96,327.82 1820.1,327.6 1823.25,327.39 1826.4,327.17 1829.57,326.96 1832.75,326.75 1835.94,326.54 1839.14,326.33 1842.35,326.13 1845.57,325.92 1848.8,325.72 1852.04,325.51 1855.29,325.31 1858.55,325.11 1861.82,324.91 1865.1,324.71 1868.39,324.52 1871.69,324.32 1875.01,324.12 1878.33,323.93 1881.66,323.74 1885,323.55 1888.36,323.36 1891.72,323.17 1895.09,322.98 1898.48,322.79 1901.87,322.61 1905.28,322.42 1908.69,322.24 1912.12,322.06 1915.55,321.88 1919,321.7"/>
<polyline fill="none" stroke="#787878" stroke-width="1.65" stroke-linejoin="round" points="1291.5,501.3 1291.5,501.3 1291.51,501.29 1291.51,501.27 1291.52,501.24 1291.54,501.2 1291.56,501.15 1291.59,501.09 1291.61,501.02 1291.65,500.94 1291.69,500.84 1291.73,500.74 1291.78,500.62 1291.83,500.49 1291.89,500.35 1291.96,500.19 1292.03,500.02 1292.1,499.84 1292.18,499.64 1292.27,499.44 1292.36,499.22 1292.46,498.98 1292.56,498.73 1292.67,498.47 1292.79,498.2 1292.91,497.91 1293.03,497.61 1293.17,497.29 1293.31,496.97 1293.45,496.62 1293.6,496.27 1293.76,495.9 1293.92,495.52 1294.09,495.12 1294.27,494.71 1294.45,494.29 1294.64,493.85 1294.84,493.4 1295.04,492.94 1295.24,492.46 1295.46,491.97 1295.68,491.47 1295.91,490.95 1296.14,490.42 1296.38,489.88 1296.63,489.33 1296.88,488.76 1297.15,488.18 1297.41,487.59 1297.69,486.98 1297.97,486.37 1298.26,485.74 1298.55,485.1 1298.85,484.45 1299.16,483.78 1299.48,483.11 1299.8,482.42 1300.13,481.72 1300.47,481.02 1300.81,480.3 1301.16,479.57 1301.52,478.83 1301.88,478.07 1302.26,477.31 1302.63,476.54 1303.02,475.76 1303.41,474.97 1303.82,474.17 1304.22,473.36 1304.64,472.54 1305.06,471.71 1305.49,470.87 1305.93,470.03 1306.37,469.17 1306.82,468.31 1307.28,467.44 1307.75,466.56 1308.22,465.68 1308.71,464.78 1309.2,463.88 1309.69,462.97 1310.2,462.06 1310.71,461.14 1311.23,460.21 1311.75,459.28 1312.29,458.34 1312.83,457.39 1313.38,456.44 1313.94,455.48 1314.5,454.52 1315.07,453.55 1315.65,452.58 1316.24,451.6 1316.84,450.62 1317.44,449.63 1318.05,448.64 1318.67,447.65 1319.3,446.65 1319.93,445.65 1320.57,444.64 1321.22,443.63 1321.88,442.62 1322.55,441.61 1323.22,440.59 1323.9,439.57 1324.59,438.55 1325.29,437.52 1325.99,436.5 1326.71,435.47 1327.43,434.44 1328.16,433.41 1328.89,432.38 1329.64,431.34 1330.39,430.31 1331.15,429.27 1331.92,428.24 1332.7,427.2 1333.48,426.16 1334.28,425.12 1335.08,424.09 1335.89,423.05 1336.71,422.01 1337.53,420.97 1338.37,419.94 1339.21,418.9 1340.06,417.86 1340.92,416.83 1341.79,415.8 1342.66,414.76 1343.55,413.73 1344.44,412.7 1345.34,411.67 1346.24,410.64 1347.16,409.62 1348.09,408.59 1349.02,407.57 1349.96,406.55 1350.91,405.53 1351.87,404.52 1352.84,403.5 1353.81,402.49 1354.79,401.48 1355.79,400.47 1356.79,399.47 1357.79,398.47 1358.81,397.47 1359.84,396.48 1360.87,395.48 1361.91,394.49 1362.96,393.51 1364.02,392.52 1365.09,391.54 1366.17,390.56 1367.25,389.59 1368.35,388.62 1369.45,387.65 1370.56,386.69 1371.68,385.73 1372.81,384.78 1373.94,383.82 1375.09,382.87 1376.24,381.93 1377.4,380.99 1378.58,380.05 1379.75,379.12 1380.94,378.19 1382.14,377.26 1383.35,376.34 1384.56,375.43 1385.78,374.51 1387.01,373.6 1388.25,372.7 1389.5,371.8 1390.76,370.9 1392.03,370.01 1393.3,369.12 1394.59,368.24 1395.88,367.36 1397.18,366.49 1398.49,365.62 1399.81,364.75 1401.14,363.89 1402.48,363.03 1403.82,362.18 1405.18,361.33 1406.54,360.49 1407.92,359.65 1409.3,358.82 1410.69,357.99 1412.09,357.16 1413.49,356.34 1414.91,355.53 1416.34,354.72 1417.77,353.91 1419.22,353.11 1420.67,352.31 1422.13,351.51 1423.6,350.73 1425.08,349.94 1426.57,349.16 1428.07,348.39 1429.57,347.62 1431.09,346.85 1432.61,346.09 1434.15,345.33 1435.69,344.58 1437.24,343.83 1438.8,343.09 1440.37,342.35 1441.95,341.61 1443.54,340.88 1445.14,340.16 1446.75,339.44 1448.36,338.72 1449.99,338.01 1451.62,337.3 1453.26,336.6 1454.92,335.9 1456.58,335.21 1458.25,334.52 1459.93,333.83 1461.62,333.15 1463.31,332.47 1465.02,331.8 1466.74,331.13 1468.46,330.47 1470.2,329.81 1471.94,329.15 1473.7,328.5 1475.46,327.86 1477.23,327.21 1479.01,326.58 1480.8,325.94 1482.6,325.31 1484.41,324.69 1486.23,324.06 1488.06,323.45 1489.89,322.83 1491.74,322.22 1493.6,321.62 1495.46,321.02 1497.34,320.42 1499.22,319.83 1501.11,319.24 1503.01,318.65 1504.93,318.07 1506.85,317.49 1508.78,316.92 1510.72,316.35 1512.67,315.78 1514.63,315.22 1516.59,314.66 1518.57,314.11 1520.56,313.55 1522.56,313.01 1524.56,312.46 1526.58,311.92 1528.6,311.39 1530.64,310.86 1532.68,310.33 1534.73,309.8 1536.8,309.28 1538.87,308.76 1540.95,308.25 1543.04,307.74 1545.14,307.23 1547.25,306.72 1549.37,306.22 1551.5,305.73 1553.64,305.23 1555.79,304.74 1557.95,304.25 1560.12,303.77 1562.29,303.29 1564.48,302.81 1566.68,302.34 1568.88,301.87 1571.1,301.4 1573.33,300.94 1575.56,300.48 1577.81,300.02 1580.06,299.56 1582.32,299.11 1584.6,298.66 1586.88,298.22 1589.17,297.78 1591.48,297.34 1593.79,296.9 1596.11,296.47 1598.44,296.04 1600.78,295.61 1603.14,295.18 1605.5,294.76 1607.87,294.34 1610.25,293.93 1612.64,293.52 1615.04,293.11 1617.45,292.7 1619.87,292.29 1622.29,291.89 1624.73,291.49 1627.18,291.1 1629.64,290.7 1632.11,290.31 1634.59,289.93 1637.07,289.54 1639.57,289.16 1642.08,288.78 1644.6,288.4 1647.12,288.02 1649.66,287.65 1652.21,287.28 1654.76,286.92 1657.33,286.55 1659.91,286.19 1662.49,285.83 1665.09,285.47 1667.69,285.12 1670.31,284.76 1672.94,284.41 1675.57,284.06 1678.22,283.72 1680.87,283.38 1683.54,283.04 1686.21,282.7 1688.9,282.36 1691.59,282.03 1694.3,281.7 1697.01,281.37 1699.74,281.04 1702.47,280.71 1705.22,280.39 1707.97,280.07 1710.74,279.75 1713.51,279.44 1716.3,279.12 1719.09,278.81 1721.9,278.5 1724.71,278.19 1727.53,277.89 1730.37,277.58 1733.21,277.28 1736.07,276.98 1738.93,276.68 1741.81,276.39 1744.69,276.09 1747.59,275.8 1750.49,275.51 1753.41,275.22 1756.33,274.94 1759.27,274.65 1762.21,274.37 1765.17,274.09 1768.14,273.81 1771.11,273.53 1774.1,273.26 1777.09,272.99 1780.1,272.71 1783.11,272.45 1786.14,272.18 1789.18,271.91 1792.22,271.65 1795.28,271.38 1798.35,271.12 1801.42,270.86 1804.51,270.61 1807.61,270.35 1810.71,270.1 1813.83,269.84 1816.96,269.59 1820.1,269.35 1823.25,269.1 1826.4,268.85 1829.57,268.61 1832.75,268.36 1835.94,268.12 1839.14,267.88 1842.35,267.65 1845.57,267.41 1848.8,267.17 1852.04,266.94 1855.29,266.71 1858.55,266.48 1861.82,266.25 1865.1,266.02 1868.39,265.79 1871.69,265.57 1875.01,265.35 1878.33,265.13 1881.66,264.9 1885,264.69 1888.36,264.47 1891.72,264.25 1895.09,264.04 1898.48,263.82 1901.87,263.61 1905.28,263.4 1908.69,263.19 1912.12,262.98 1915.55,262.78 1919,262.57"/>
<polyline fill="none" stroke="#8cbcff" stroke-width="1.65" stroke-linejoin="round" points="1291.5,501.3 1291.5,501.3 1291.51,501.28 1291.51,501.25 1291.52,501.2 1291.54,501.14 1291.56,501.06 1291.59,500.97 1291.61,500.86 1291.65,500.72 1291.69,500.58 1291.73,500.41 1291.78,500.22 1291.83,500.01 1291.89,499.78 1291.96,499.54 1292.03,499.27 1292.1,498.98 1292.18,498.67 1292.27,498.34 1292.36,497.99 1292.46,497.62 1292.56,497.23 1292.67,496.82 1292.79,496.39 1292.91,495.93 1293.03,495.46 1293.17,494.96 1293.31,494.44 1293.45,493.91 1293.6,493.35 1293.76,492.77 1293.92,492.17 1294.09,491.55 1294.27,490.9 1294.45,490.24 1294.64,489.56 1294.84,488.86 1295.04,488.14 1295.24,487.39 1295.46,486.63 1295.68,485.85 1295.91,485.05 1296.14,484.23 1296.38,483.39 1296.63,482.54 1296.88,481.66 1297.15,480.77 1297.41,479.86 1297.69,478.93 1297.97,477.98 1298.26,477.02 1298.55,476.04 1298.85,475.04 1299.16,474.03 1299.48,473 1299.8,471.96 1300.13,470.9 1300.47,469.82 1300.81,468.73 1301.16,467.63 1301.52,466.51 1301.88,465.38 1302.26,464.24 1302.63,463.08 1303.02,461.91 1303.41,460.73 1303.82,459.53 1304.22,458.32 1304.64,457.11 1305.06,455.88 1305.49,454.64 1305.93,453.39 1306.37,452.13 1306.82,450.86 1307.28,449.58 1307.75,448.29 1308.22,447 1308.71,445.69 1309.2,444.38 1309.69,443.06 1310.2,441.73 1310.71,440.4 1311.23,439.06 1311.75,437.71 1312.29,436.36 1312.83,435 1313.38,433.64 1313.94,432.27 1314.5,430.9 1315.07,429.52 1315.65,428.14 1316.24,426.75 1316.84,425.36 1317.44,423.97 1318.05,422.58 1318.67,421.18 1319.3,419.78 1319.93,418.38 1320.57,416.98 1321.22,415.58 1321.88,414.17 1322.55,412.77 1323.22,411.36 1323.9,409.96 1324.59,408.55 1325.29,407.14 1325.99,405.74 1326.71,404.33 1327.43,402.93 1328.16,401.53 1328.89,400.13 1329.64,398.73 1330.39,397.33 1331.15,395.93 1331.92,394.54 1332.7,393.15 1333.48,391.76 1334.28,390.37 1335.08,388.99 1335.89,387.61 1336.71,386.24 1337.53,384.86 1338.37,383.49 1339.21,382.13 1340.06,380.77 1340.92,379.41 1341.79,378.06 1342.66,376.71 1343.55,375.37 1344.44,374.03 1345.34,372.69 1346.24,371.36 1347.16,370.04 1348.09,368.72 1349.02,367.41 1349.96,366.1 1350.91,364.79 1351.87,363.5 1352.84,362.21 1353.81,360.92 1354.79,359.64 1355.79,358.37 1356.79,357.1 1357.79,355.84 1358.81,354.58 1359.84,353.33 1360.87,352.09 1361.91,350.85 1362.96,349.62 1364.02,348.4 1365.09,347.18 1366.17,345.97 1367.25,344.77 1368.35,343.57 1369.45,342.38 1370.56,341.2 1371.68,340.02 1372.81,338.85 1373.94,337.69 1375.09,336.53 1376.24,335.38 1377.4,334.24 1378.58,333.1 1379.75,331.97 1380.94,330.85 1382.14,329.74 1383.35,328.63 1384.56,327.53 1385.78,326.44 1387.01,325.35 1388.25,324.27 1389.5,323.2 1390.76,322.13 1392.03,321.08 1393.3,320.02 1394.59,318.98 1395.88,317.94 1397.18,316.91 1398.49,315.89 1399.81,314.88 1401.14,313.87 1402.48,312.86 1403.82,311.87 1405.18,310.88 1406.54,309.9 1407.92,308.93 1409.3,307.96 1410.69,307 1412.09,306.05 1413.49,305.1 1414.91,304.16 1416.34,303.23 1417.77,302.3 1419.22,301.38 1420.67,300.47 1422.13,299.56 1423.6,298.66 1425.08,297.77 1426.57,296.88 1428.07,296 1429.57,295.13 1431.09,294.27 1432.61,293.41 1434.15,292.55 1435.69,291.7 1437.24,290.86 1438.8,290.03 1440.37,289.2 1441.95,288.38 1443.54,287.56 1445.14,286.75 1446.75,285.95 1448.36,285.15 1449.99,284.36 1451.62,283.58 1453.26,282.8 1454.92,282.03 1456.58,281.26 1458.25,280.5 1459.93,279.74 1461.62,278.99 1463.31,278.25 1465.02,277.51 1466.74,276.78 1468.46,276.05 1470.2,275.33 1471.94,274.62 1473.7,273.91 1475.46,273.2 1477.23,272.5 1479.01,271.81 1480.8,271.12 1482.6,270.44 1484.41,269.76 1486.23,269.09 1488.06,268.43 1489.89,267.76 1491.74,267.11 1493.6,266.46 1495.46,265.81 1497.34,265.17 1499.22,264.54 1501.11,263.9 1503.01,263.28 1504.93,262.66 1506.85,262.04 1508.78,261.43 1510.72,260.82 1512.67,260.22 1514.63,259.62 1516.59,259.03 1518.57,258.45 1520.56,257.86 1522.56,257.28 1524.56,256.71 1526.58,256.14 1528.6,255.58 1530.64,255.01 1532.68,254.46 1534.73,253.91 1536.8,253.36 1538.87,252.82 1540.95,252.28 1543.04,251.74 1545.14,251.21 1547.25,250.69 1549.37,250.16 1551.5,249.65 1553.64,249.13 1555.79,248.62 1557.95,248.12 1560.12,247.61 1562.29,247.11 1564.48,246.62 1566.68,246.13 1568.88,245.64 1571.1,245.16 1573.33,244.68 1575.56,244.21 1577.81,243.73 1580.06,243.27 1582.32,242.8 1584.6,242.34 1586.88,241.88 1589.17,241.43 1591.48,240.98 1593.79,240.53 1596.11,240.09 1598.44,239.65 1600.78,239.21 1603.14,238.78 1605.5,238.35 1607.87,237.92 1610.25,237.5 1612.64,237.08 1615.04,236.66 1617.45,236.25 1619.87,235.84 1622.29,235.43 1624.73,235.03 1627.18,234.62 1629.64,234.23 1632.11,233.83 1634.59,233.44 1637.07,233.05 1639.57,232.66 1642.08,232.28 1644.6,231.9 1647.12,231.52 1649.66,231.15 1652.21,230.78 1654.76,230.41 1657.33,230.04 1659.91,229.68 1662.49,229.32 1665.09,228.96 1667.69,228.6 1670.31,228.25 1672.94,227.9 1675.57,227.55 1678.22,227.21 1680.87,226.86 1683.54,226.52 1686.21,226.19 1688.9,225.85 1691.59,225.52 1694.3,225.19 1697.01,224.86 1699.74,224.54 1702.47,224.21 1705.22,223.89 1707.97,223.58 1710.74,223.26 1713.51,222.95 1716.3,222.64 1719.09,222.33 1721.9,222.02 1724.71,221.72 1727.53,221.42 1730.37,221.12 1733.21,220.82 1736.07,220.52 1738.93,220.23 1741.81,219.94 1744.69,219.65 1747.59,219.36 1750.49,219.08 1753.41,218.79 1756.33,218.51 1759.27,218.23 1762.21,217.96 1765.17,217.68 1768.14,217.41 1771.11,217.14 1774.1,216.87 1777.09,216.6 1780.1,216.34 1783.11,216.07 1786.14,215.81 1789.18,215.55 1792.22,215.29 1795.28,215.04 1798.35,214.78 1801.42,214.53 1804.51,214.28 1807.61,214.03 1810.71,213.78 1813.83,213.54 1816.96,213.29 1820.1,213.05 1823.25,212.81 1826.4,212.57 1829.57,212.34 1832.75,212.1 1835.94,211.87 1839.14,211.63 1842.35,211.4 1845.57,211.17 1848.8,210.95 1852.04,210.72 1855.29,210.5 1858.55,210.27 1861.82,210.05 1865.1,209.83 1868.39,209.61 1871.69,209.4 1875.01,209.18 1878.33,208.97 1881.66,208.76 1885,208.55 1888.36,208.34 1891.72,208.13 1895.09,207.92 1898.48,207.72 1901.87,207.51 1905.28,207.31 1908.69,207.11 1912.12,206.91 1915.55,206.71 1919,206.51"/>
<polyline fill="none" stroke="#4a9cf2" stroke-width="1.65" stroke-linejoin="round" points="1291.5,501.3 1291.5,501.29 1291.51,501.27 1291.51,501.23 1291.52,501.17 1291.54,501.09 1291.56,500.98 1291.59,500.85 1291.61,500.7 1291.65,500.52 1291.69,500.32 1291.73,500.1 1291.78,499.84 1291.83,499.56 1291.89,499.26 1291.96,498.92 1292.03,498.57 1292.1,498.18 1292.18,497.76 1292.27,497.32 1292.36,496.85 1292.46,496.36 1292.56,495.83 1292.67,495.28 1292.79,494.7 1292.91,494.09 1293.03,493.45 1293.17,492.79 1293.31,492.1 1293.45,491.38 1293.6,490.63 1293.76,489.86 1293.92,489.06 1294.09,488.23 1294.27,487.38 1294.45,486.5 1294.64,485.6 1294.84,484.66 1295.04,483.71 1295.24,482.73 1295.46,481.72 1295.68,480.69 1295.91,479.63 1296.14,478.55 1296.38,477.45 1296.63,476.32 1296.88,475.17 1297.15,474 1297.41,472.8 1297.69,471.59 1297.97,470.35 1298.26,469.1 1298.55,467.82 1298.85,466.52 1299.16,465.2 1299.48,463.87 1299.8,462.52 1300.13,461.14 1300.47,459.75 1300.81,458.35 1301.16,456.93 1301.52,455.49 1301.88,454.03 1302.26,452.57 1302.63,451.08 1303.02,449.59 1303.41,448.08 1303.82,446.55 1304.22,445.02 1304.64,443.47 1305.06,441.91 1305.49,440.34 1305.93,438.76 1306.37,437.17 1306.82,435.57 1307.28,433.96 1307.75,432.34 1308.22,430.72 1308.71,429.08 1309.2,427.45 1309.69,425.8 1310.2,424.15 1310.71,422.49 1311.23,420.83 1311.75,419.16 1312.29,417.49 1312.83,415.81 1313.38,414.13 1313.94,412.45 1314.5,410.76 1315.07,409.08 1315.65,407.39 1316.24,405.7 1316.84,404 1317.44,402.31 1318.05,400.62 1318.67,398.93 1319.3,397.24 1319.93,395.55 1320.57,393.86 1321.22,392.17 1321.88,390.48 1322.55,388.8 1323.22,387.12 1323.9,385.44 1324.59,383.76 1325.29,382.09 1325.99,380.42 1326.71,378.75 1327.43,377.09 1328.16,375.44 1328.89,373.78 1329.64,372.14 1330.39,370.5 1331.15,368.86 1331.92,367.23 1332.7,365.6 1333.48,363.98 1334.28,362.37 1335.08,360.76 1335.89,359.16 1336.71,357.57 1337.53,355.98 1338.37,354.4 1339.21,352.83 1340.06,351.26 1340.92,349.71 1341.79,348.15 1342.66,346.61 1343.55,345.08 1344.44,343.55 1345.34,342.03 1346.24,340.52 1347.16,339.02 1348.09,337.53 1349.02,336.04 1349.96,334.56 1350.91,333.1 1351.87,331.64 1352.84,330.19 1353.81,328.74 1354.79,327.31 1355.79,325.89 1356.79,324.47 1357.79,323.07 1358.81,321.67 1359.84,320.28 1360.87,318.9 1361.91,317.54 1362.96,316.18 1364.02,314.82 1365.09,313.48 1366.17,312.15 1367.25,310.83 1368.35,309.52 1369.45,308.21 1370.56,306.92 1371.68,305.63 1372.81,304.36 1373.94,303.09 1375.09,301.83 1376.24,300.58 1377.4,299.34 1378.58,298.11 1379.75,296.89 1380.94,295.68 1382.14,294.48 1383.35,293.29 1384.56,292.11 1385.78,290.93 1387.01,289.77 1388.25,288.61 1389.5,287.46 1390.76,286.33 1392.03,285.2 1393.3,284.08 1394.59,282.97 1395.88,281.87 1397.18,280.77 1398.49,279.69 1399.81,278.61 1401.14,277.55 1402.48,276.49 1403.82,275.44 1405.18,274.4 1406.54,273.37 1407.92,272.34 1409.3,271.33 1410.69,270.32 1412.09,269.32 1413.49,268.33 1414.91,267.35 1416.34,266.38 1417.77,265.41 1419.22,264.45 1420.67,263.5 1422.13,262.56 1423.6,261.63 1425.08,260.7 1426.57,259.79 1428.07,258.88 1429.57,257.97 1431.09,257.08 1432.61,256.19 1434.15,255.31 1435.69,254.44 1437.24,253.58 1438.8,252.72 1440.37,251.87 1441.95,251.03 1443.54,250.19 1445.14,249.36 1446.75,248.54 1448.36,247.73 1449.99,246.92 1451.62,246.12 1453.26,245.33 1454.92,244.54 1456.58,243.76 1458.25,242.99 1459.93,242.22 1461.62,241.47 1463.31,240.71 1465.02,239.97 1466.74,239.23 1468.46,238.49 1470.2,237.77 1471.94,237.04 1473.7,236.33 1475.46,235.62 1477.23,234.92 1479.01,234.22 1480.8,233.53 1482.6,232.85 1484.41,232.17 1486.23,231.5 1488.06,230.83 1489.89,230.17 1491.74,229.51 1493.6,228.86 1495.46,228.22 1497.34,227.58 1499.22,226.95 1501.11,226.32 1503.01,225.7 1504.93,225.08 1506.85,224.47 1508.78,223.86 1510.72,223.26 1512.67,222.66 1514.63,222.07 1516.59,221.49 1518.57,220.9 1520.56,220.33 1522.56,219.76 1524.56,219.19 1526.58,218.63 1528.6,218.07 1530.64,217.52 1532.68,216.97 1534.73,216.43 1536.8,215.89 1538.87,215.36 1540.95,214.83 1543.04,214.31 1545.14,213.79 1547.25,213.27 1549.37,212.76 1551.5,212.25 1553.64,211.75 1555.79,211.25 1557.95,210.76 1560.12,210.27 1562.29,209.78 1564.48,209.3 1566.68,208.82 1568.88,208.35 1571.1,207.88 1573.33,207.41 1575.56,206.95 1577.81,206.49 1580.06,206.03 1582.32,205.58 1584.6,205.14 1586.88,204.69 1589.17,204.25 1591.48,203.82 1593.79,203.38 1596.11,202.95 1598.44,202.53 1600.78,202.11 1603.14,201.69 1605.5,201.27 1607.87,200.86 1610.25,200.45 1612.64,200.05 1615.04,199.65 1617.45,199.25 1619.87,198.85 1622.29,198.46 1624.73,198.07 1627.18,197.69 1629.64,197.3 1632.11,196.92 1634.59,196.55 1637.07,196.17 1639.57,195.8 1642.08,195.44 1644.6,195.07 1647.12,194.71 1649.66,194.35 1652.21,194 1654.76,193.64 1657.33,193.29 1659.91,192.94 1662.49,192.6 1665.09,192.26 1667.69,191.92 1670.31,191.58 1672.94,191.25 1675.57,190.92 1678.22,190.59 1680.87,190.26 1683.54,189.94 1686.21,189.62 1688.9,189.3 1691.59,188.98 1694.3,188.67 1697.01,188.36 1699.74,188.05 1702.47,187.74 1705.22,187.44 1707.97,187.14 1710.74,186.84 1713.51,186.54 1716.3,186.24 1719.09,185.95 1721.9,185.66 1724.71,185.37 1727.53,185.09 1730.37,184.8 1733.21,184.52 1736.07,184.24 1738.93,183.96 1741.81,183.69 1744.69,183.42 1747.59,183.15 1750.49,182.88 1753.41,182.61 1756.33,182.34 1759.27,182.08 1762.21,181.82 1765.17,181.56 1768.14,181.3 1771.11,181.05 1774.1,180.79 1777.09,180.54 1780.1,180.29 1783.11,180.05 1786.14,179.8 1789.18,179.56 1792.22,179.31 1795.28,179.07 1798.35,178.83 1801.42,178.6 1804.51,178.36 1807.61,178.13 1810.71,177.9 1813.83,177.67 1816.96,177.44 1820.1,177.21 1823.25,176.98 1826.4,176.76 1829.57,176.54 1832.75,176.32 1835.94,176.1 1839.14,175.88 1842.35,175.67 1845.57,175.45 1848.8,175.24 1852.04,175.03 1855.29,174.82 1858.55,174.61 1861.82,174.4 1865.1,174.2 1868.39,173.99 1871.69,173.79 1875.01,173.59 1878.33,173.39 1881.66,173.19 1885,173 1888.36,172.8 1891.72,172.61 1895.09,172.41 1898.48,172.22 1901.87,172.03 1905.28,171.84 1908.69,171.66 1912.12,171.47 1915.55,171.29 1919,171.1"/>
<polyline fill="none" stroke="#6a6aff" stroke-width="1.65" stroke-linejoin="round" points="1291.5,501.3 1291.5,501.29 1291.51,501.26 1291.51,501.21 1291.52,501.14 1291.54,501.03 1291.56,500.9 1291.59,500.74 1291.61,500.55 1291.65,500.32 1291.69,500.07 1291.73,499.78 1291.78,499.47 1291.83,499.11 1291.89,498.73 1291.96,498.31 1292.03,497.86 1292.1,497.37 1292.18,496.85 1292.27,496.3 1292.36,495.71 1292.46,495.09 1292.56,494.43 1292.67,493.74 1292.79,493.01 1292.91,492.25 1293.03,491.45 1293.17,490.62 1293.31,489.76 1293.45,488.86 1293.6,487.93 1293.76,486.97 1293.92,485.97 1294.09,484.94 1294.27,483.88 1294.45,482.79 1294.64,481.66 1294.84,480.51 1295.04,479.32 1295.24,478.1 1295.46,476.85 1295.68,475.58 1295.91,474.27 1296.14,472.94 1296.38,471.58 1296.63,470.19 1296.88,468.78 1297.15,467.34 1297.41,465.87 1297.69,464.38 1297.97,462.86 1298.26,461.32 1298.55,459.76 1298.85,458.18 1299.16,456.57 1299.48,454.94 1299.8,453.3 1300.13,451.63 1300.47,449.94 1300.81,448.24 1301.16,446.52 1301.52,444.78 1301.88,443.02 1302.26,441.25 1302.63,439.46 1303.02,437.66 1303.41,435.85 1303.82,434.02 1304.22,432.18 1304.64,430.33 1305.06,428.46 1305.49,426.59 1305.93,424.71 1306.37,422.81 1306.82,420.91 1307.28,419 1307.75,417.09 1308.22,415.16 1308.71,413.23 1309.2,411.3 1309.69,409.36 1310.2,407.42 1310.71,405.47 1311.23,403.52 1311.75,401.56 1312.29,399.61 1312.83,397.65 1313.38,395.69 1313.94,393.73 1314.5,391.77 1315.07,389.81 1315.65,387.85 1316.24,385.9 1316.84,383.94 1317.44,381.99 1318.05,380.04 1318.67,378.09 1319.3,376.15 1319.93,374.21 1320.57,372.27 1321.22,370.34 1321.88,368.41 1322.55,366.49 1323.22,364.58 1323.9,362.66 1324.59,360.76 1325.29,358.86 1325.99,356.97 1326.71,355.09 1327.43,353.21 1328.16,351.35 1328.89,349.48 1329.64,347.63 1330.39,345.79 1331.15,343.95 1331.92,342.13 1332.7,340.31 1333.48,338.5 1334.28,336.7 1335.08,334.91 1335.89,333.13 1336.71,331.36 1337.53,329.6 1338.37,327.85 1339.21,326.11 1340.06,324.38 1340.92,322.66 1341.79,320.95 1342.66,319.26 1343.55,317.57 1344.44,315.9 1345.34,314.23 1346.24,312.58 1347.16,310.94 1348.09,309.3 1349.02,307.68 1349.96,306.08 1350.91,304.48 1351.87,302.89 1352.84,301.32 1353.81,299.76 1354.79,298.21 1355.79,296.67 1356.79,295.14 1357.79,293.62 1358.81,292.12 1359.84,290.62 1360.87,289.14 1361.91,287.67 1362.96,286.21 1364.02,284.77 1365.09,283.33 1366.17,281.91 1367.25,280.5 1368.35,279.1 1369.45,277.71 1370.56,276.33 1371.68,274.96 1372.81,273.61 1373.94,272.26 1375.09,270.93 1376.24,269.61 1377.4,268.3 1378.58,267 1379.75,265.72 1380.94,264.44 1382.14,263.17 1383.35,261.92 1384.56,260.68 1385.78,259.44 1387.01,258.22 1388.25,257.01 1389.5,255.81 1390.76,254.62 1392.03,253.44 1393.3,252.27 1394.59,251.11 1395.88,249.96 1397.18,248.82 1398.49,247.7 1399.81,246.58 1401.14,245.47 1402.48,244.37 1403.82,243.29 1405.18,242.21 1406.54,241.14 1407.92,240.08 1409.3,239.03 1410.69,237.99 1412.09,236.96 1413.49,235.94 1414.91,234.93 1416.34,233.93 1417.77,232.94 1419.22,231.95 1420.67,230.98 1422.13,230.01 1423.6,229.06 1425.08,228.11 1426.57,227.17 1428.07,226.24 1429.57,225.32 1431.09,224.41 1432.61,223.5 1434.15,222.6 1435.69,221.72 1437.24,220.84 1438.8,219.96 1440.37,219.1 1441.95,218.24 1443.54,217.4 1445.14,216.56 1446.75,215.72 1448.36,214.9 1449.99,214.08 1451.62,213.27 1453.26,212.47 1454.92,211.68 1456.58,210.89 1458.25,210.11 1459.93,209.34 1461.62,208.57 1463.31,207.81 1465.02,207.06 1466.74,206.32 1468.46,205.58 1470.2,204.85 1471.94,204.12 1473.7,203.41 1475.46,202.7 1477.23,201.99 1479.01,201.29 1480.8,200.6 1482.6,199.92 1484.41,199.24 1486.23,198.56 1488.06,197.9 1489.89,197.24 1491.74,196.58 1493.6,195.93 1495.46,195.29 1497.34,194.66 1499.22,194.02 1501.11,193.4 1503.01,192.78 1504.93,192.17 1506.85,191.56 1508.78,190.96 1510.72,190.36 1512.67,189.77 1514.63,189.18 1516.59,188.6 1518.57,188.02 1520.56,187.45 1522.56,186.89 1524.56,186.32 1526.58,185.77 1528.6,185.22 1530.64,184.67 1532.68,184.13 1534.73,183.6 1536.8,183.06 1538.87,182.54 1540.95,182.02 1543.04,181.5 1545.14,180.99 1547.25,180.48 1549.37,179.97 1551.5,179.48 1553.64,178.98 1555.79,178.49 1557.95,178 1560.12,177.52 1562.29,177.05 1564.48,176.57 1566.68,176.1 1568.88,175.64 1571.1,175.18 1573.33,174.72 1575.56,174.27 1577.81,173.82 1580.06,173.37 1582.32,172.93 1584.6,172.49 1586.88,172.06 1589.17,171.63 1591.48,171.2 1593.79,170.78 1596.11,170.36 1598.44,169.94 1600.78,169.53 1603.14,169.12 1605.5,168.72 1607.87,168.32 1610.25,167.92 1612.64,167.52 1615.04,167.13 1617.45,166.74 1619.87,166.36 1622.29,165.98 1624.73,165.6 1627.18,165.22 1629.64,164.85 1632.11,164.48 1634.59,164.12 1637.07,163.75 1639.57,163.39 1642.08,163.04 1644.6,162.68 1647.12,162.33 1649.66,161.98 1652.21,161.64 1654.76,161.3 1657.33,160.96 1659.91,160.62 1662.49,160.28 1665.09,159.95 1667.69,159.62 1670.31,159.3 1672.94,158.98 1675.57,158.65 1678.22,158.34 1680.87,158.02 1683.54,157.71 1686.21,157.4 1688.9,157.09 1691.59,156.78 1694.3,156.48 1697.01,156.18 1699.74,155.88 1702.47,155.59 1705.22,155.29 1707.97,155 1710.74,154.71 1713.51,154.43 1716.3,154.14 1719.09,153.86 1721.9,153.58 1724.71,153.3 1727.53,153.03 1730.37,152.75 1733.21,152.48 1736.07,152.21 1738.93,151.95 1741.81,151.68 1744.69,151.42 1747.59,151.16 1750.49,150.9 1753.41,150.64 1756.33,150.39 1759.27,150.14 1762.21,149.89 1765.17,149.64 1768.14,149.39 1771.11,149.14 1774.1,148.9 1777.09,148.66 1780.1,148.42 1783.11,148.18 1786.14,147.95 1789.18,147.71 1792.22,147.48 1795.28,147.25 1798.35,147.02 1801.42,146.79 1804.51,146.57 1807.61,146.34 1810.71,146.12 1813.83,145.9 1816.96,145.68 1820.1,145.46 1823.25,145.25 1826.4,145.03 1829.57,144.82 1832.75,144.61 1835.94,144.4 1839.14,144.19 1842.35,143.99 1845.57,143.78 1848.8,143.58 1852.04,143.38 1855.29,143.18 1858.55,142.98 1861.82,142.78 1865.1,142.58 1868.39,142.39 1871.69,142.2 1875.01,142.01 1878.33,141.81 1881.66,141.63 1885,141.44 1888.36,141.25 1891.72,141.07 1895.09,140.88 1898.48,140.7 1901.87,140.52 1905.28,140.34 1908.69,140.16 1912.12,139.98 1915.55,139.81 1919,139.63"/>
<polyline fill="none" stroke="#2828ff" stroke-width="1.65" stroke-linejoin="round" points="1291.5,501.3 1291.5,501.29 1291.51,501.26 1291.51,501.2 1291.52,501.1 1291.54,500.98 1291.56,500.82 1291.59,500.63 1291.61,500.4 1291.65,500.13 1291.69,499.83 1291.73,499.49 1291.78,499.11 1291.83,498.69 1291.89,498.23 1291.96,497.73 1292.03,497.19 1292.1,496.61 1292.18,495.99 1292.27,495.33 1292.36,494.63 1292.46,493.89 1292.56,493.11 1292.67,492.28 1292.79,491.42 1292.91,490.52 1293.03,489.57 1293.17,488.59 1293.31,487.56 1293.45,486.5 1293.6,485.4 1293.76,484.26 1293.92,483.08 1294.09,481.87 1294.27,480.62 1294.45,479.33 1294.64,478 1294.84,476.64 1295.04,475.25 1295.24,473.82 1295.46,472.35 1295.68,470.86 1295.91,469.33 1296.14,467.77 1296.38,466.18 1296.63,464.56 1296.88,462.91 1297.15,461.23 1297.41,459.52 1297.69,457.79 1297.97,456.03 1298.26,454.25 1298.55,452.44 1298.85,450.61 1299.16,448.75 1299.48,446.87 1299.8,444.98 1300.13,443.06 1300.47,441.12 1300.81,439.16 1301.16,437.19 1301.52,435.2 1301.88,433.19 1302.26,431.17 1302.63,429.13 1303.02,427.08 1303.41,425.02 1303.82,422.94 1304.22,420.86 1304.64,418.76 1305.06,416.65 1305.49,414.54 1305.93,412.41 1306.37,410.28 1306.82,408.15 1307.28,406.01 1307.75,403.86 1308.22,401.71 1308.71,399.55 1309.2,397.39 1309.69,395.23 1310.2,393.07 1310.71,390.9 1311.23,388.74 1311.75,386.58 1312.29,384.41 1312.83,382.25 1313.38,380.09 1313.94,377.94 1314.5,375.78 1315.07,373.63 1315.65,371.49 1316.24,369.34 1316.84,367.21 1317.44,365.08 1318.05,362.95 1318.67,360.83 1319.3,358.72 1319.93,356.62 1320.57,354.52 1321.22,352.43 1321.88,350.35 1322.55,348.28 1323.22,346.21 1323.9,344.16 1324.59,342.11 1325.29,340.08 1325.99,338.05 1326.71,336.04 1327.43,334.04 1328.16,332.05 1328.89,330.06 1329.64,328.09 1330.39,326.14 1331.15,324.19 1331.92,322.25 1332.7,320.33 1333.48,318.42 1334.28,316.52 1335.08,314.64 1335.89,312.77 1336.71,310.91 1337.53,309.06 1338.37,307.23 1339.21,305.41 1340.06,303.6 1340.92,301.81 1341.79,300.02 1342.66,298.26 1343.55,296.5 1344.44,294.76 1345.34,293.04 1346.24,291.32 1347.16,289.62 1348.09,287.94 1349.02,286.27 1349.96,284.61 1350.91,282.96 1351.87,281.33 1352.84,279.72 1353.81,278.11 1354.79,276.52 1355.79,274.95 1356.79,273.38 1357.79,271.83 1358.81,270.3 1359.84,268.78 1360.87,267.27 1361.91,265.77 1362.96,264.29 1364.02,262.82 1365.09,261.37 1366.17,259.92 1367.25,258.5 1368.35,257.08 1369.45,255.68 1370.56,254.29 1371.68,252.91 1372.81,251.55 1373.94,250.19 1375.09,248.85 1376.24,247.53 1377.4,246.21 1378.58,244.91 1379.75,243.62 1380.94,242.35 1382.14,241.08 1383.35,239.83 1384.56,238.59 1385.78,237.36 1387.01,236.15 1388.25,234.94 1389.5,233.75 1390.76,232.56 1392.03,231.39 1393.3,230.24 1394.59,229.09 1395.88,227.95 1397.18,226.83 1398.49,225.71 1399.81,224.61 1401.14,223.52 1402.48,222.43 1403.82,221.36 1405.18,220.3 1406.54,219.25 1407.92,218.21 1409.3,217.18 1410.69,216.16 1412.09,215.15 1413.49,214.15 1414.91,213.16 1416.34,212.18 1417.77,211.21 1419.22,210.25 1420.67,209.3 1422.13,208.36 1423.6,207.42 1425.08,206.5 1426.57,205.59 1428.07,204.68 1429.57,203.78 1431.09,202.9 1432.61,202.02 1434.15,201.15 1435.69,200.29 1437.24,199.43 1438.8,198.59 1440.37,197.75 1441.95,196.93 1443.54,196.11 1445.14,195.29 1446.75,194.49 1448.36,193.69 1449.99,192.91 1451.62,192.13 1453.26,191.35 1454.92,190.59 1456.58,189.83 1458.25,189.08 1459.93,188.34 1461.62,187.6 1463.31,186.87 1465.02,186.15 1466.74,185.44 1468.46,184.73 1470.2,184.03 1471.94,183.34 1473.7,182.65 1475.46,181.97 1477.23,181.3 1479.01,180.63 1480.8,179.97 1482.6,179.31 1484.41,178.67 1486.23,178.02 1488.06,177.39 1489.89,176.76 1491.74,176.14 1493.6,175.52 1495.46,174.91 1497.34,174.3 1499.22,173.7 1501.11,173.11 1503.01,172.52 1504.93,171.94 1506.85,171.36 1508.78,170.79 1510.72,170.22 1512.67,169.66 1514.63,169.1 1516.59,168.55 1518.57,168.01 1520.56,167.47 1522.56,166.93 1524.56,166.4 1526.58,165.88 1528.6,165.36 1530.64,164.84 1532.68,164.33 1534.73,163.82 1536.8,163.32 1538.87,162.83 1540.95,162.33 1543.04,161.85 1545.14,161.36 1547.25,160.88 1549.37,160.41 1551.5,159.94 1553.64,159.47 1555.79,159.01 1557.95,158.56 1560.12,158.1 1562.29,157.65 1564.48,157.21 1566.68,156.77 1568.88,156.33 1571.1,155.9 1573.33,155.47 1575.56,155.05 1577.81,154.62 1580.06,154.21 1582.32,153.79 1584.6,153.38 1586.88,152.98 1589.17,152.58 1591.48,152.18 1593.79,151.78 1596.11,151.39 1598.44,151 1600.78,150.61 1603.14,150.23 1605.5,149.85 1607.87,149.48 1610.25,149.11 1612.64,148.74 1615.04,148.37 1617.45,148.01 1619.87,147.65 1622.29,147.3 1624.73,146.94 1627.18,146.59 1629.64,146.25 1632.11,145.9 1634.59,145.56 1637.07,145.23 1639.57,144.89 1642.08,144.56 1644.6,144.23 1647.12,143.9 1649.66,143.58 1652.21,143.26 1654.76,142.94 1657.33,142.62 1659.91,142.31 1662.49,142 1665.09,141.69 1667.69,141.39 1670.31,141.09 1672.94,140.79 1675.57,140.49 1678.22,140.19 1680.87,139.9 1683.54,139.61 1686.21,139.32 1688.9,139.04 1691.59,138.76 1694.3,138.47 1697.01,138.2 1699.74,137.92 1702.47,137.65 1705.22,137.37 1707.97,137.11 1710.74,136.84 1713.51,136.57 1716.3,136.31 1719.09,136.05 1721.9,135.79 1724.71,135.53 1727.53,135.28 1730.37,135.03 1733.21,134.78 1736.07,134.53 1738.93,134.28 1741.81,134.04 1744.69,133.8 1747.59,133.55 1750.49,133.32 1753.41,133.08 1756.33,132.84 1759.27,132.61 1762.21,132.38 1765.17,132.15 1768.14,131.92 1771.11,131.7 1774.1,131.47 1777.09,131.25 1780.1,131.03 1783.11,130.81 1786.14,130.59 1789.18,130.38 1792.22,130.16 1795.28,129.95 1798.35,129.74 1801.42,129.53 1804.51,129.32 1807.61,129.12 1810.71,128.91 1813.83,128.71 1816.96,128.51 1820.1,128.31 1823.25,128.11 1826.4,127.92 1829.57,127.72 1832.75,127.53 1835.94,127.33 1839.14,127.14 1842.35,126.95 1845.57,126.77 1848.8,126.58 1852.04,126.39 1855.29,126.21 1858.55,126.03 1861.82,125.85 1865.1,125.67 1868.39,125.49 1871.69,125.31 1875.01,125.14 1878.33,124.96 1881.66,124.79 1885,124.62 1888.36,124.45 1891.72,124.28 1895.09,124.11 1898.48,123.94 1901.87,123.77 1905.28,123.61 1908.69,123.45 1912.12,123.28 1915.55,123.12 1919,122.96"/>
<polyline fill="none" stroke="#1e1ed0" stroke-width="1.65" stroke-linejoin="round" points="1291.5,501.3 1291.5,501.29 1291.51,501.25 1291.51,501.18 1291.52,501.08 1291.54,500.94 1291.56,500.76 1291.59,500.54 1291.61,500.29 1291.65,499.99 1291.69,499.65 1291.73,499.26 1291.78,498.83 1291.83,498.36 1291.89,497.85 1291.96,497.29 1292.03,496.68 1292.1,496.03 1292.18,495.33 1292.27,494.59 1292.36,493.81 1292.46,492.97 1292.56,492.1 1292.67,491.17 1292.79,490.2 1292.91,489.19 1293.03,488.14 1293.17,487.03 1293.31,485.89 1293.45,484.7 1293.6,483.47 1293.76,482.2 1293.92,480.88 1294.09,479.52 1294.27,478.13 1294.45,476.69 1294.64,475.21 1294.84,473.7 1295.04,472.15 1295.24,470.56 1295.46,468.93 1295.68,467.27 1295.91,465.57 1296.14,463.84 1296.38,462.08 1296.63,460.29 1296.88,458.46 1297.15,456.61 1297.41,454.72 1297.69,452.81 1297.97,450.87 1298.26,448.9 1298.55,446.91 1298.85,444.89 1299.16,442.85 1299.48,440.79 1299.8,438.7 1300.13,436.6 1300.47,434.47 1300.81,432.33 1301.16,430.17 1301.52,427.99 1301.88,425.8 1302.26,423.59 1302.63,421.37 1303.02,419.14 1303.41,416.89 1303.82,414.64 1304.22,412.37 1304.64,410.1 1305.06,407.81 1305.49,405.52 1305.93,403.22 1306.37,400.92 1306.82,398.61 1307.28,396.3 1307.75,393.98 1308.22,391.66 1308.71,389.34 1309.2,387.02 1309.69,384.7 1310.2,382.38 1310.71,380.06 1311.23,377.74 1311.75,375.43 1312.29,373.12 1312.83,370.81 1313.38,368.5 1313.94,366.2 1314.5,363.91 1315.07,361.62 1315.65,359.34 1316.24,357.07 1316.84,354.8 1317.44,352.54 1318.05,350.29 1318.67,348.05 1319.3,345.81 1319.93,343.59 1320.57,341.38 1321.22,339.18 1321.88,336.98 1322.55,334.8 1323.22,332.63 1323.9,330.48 1324.59,328.33 1325.29,326.2 1325.99,324.08 1326.71,321.97 1327.43,319.87 1328.16,317.79 1328.89,315.72 1329.64,313.67 1330.39,311.63 1331.15,309.6 1331.92,307.59 1332.7,305.59 1333.48,303.6 1334.28,301.63 1335.08,299.68 1335.89,297.74 1336.71,295.81 1337.53,293.9 1338.37,292.01 1339.21,290.13 1340.06,288.26 1340.92,286.41 1341.79,284.58 1342.66,282.76 1343.55,280.95 1344.44,279.16 1345.34,277.39 1346.24,275.63 1347.16,273.89 1348.09,272.16 1349.02,270.45 1349.96,268.75 1350.91,267.07 1351.87,265.4 1352.84,263.75 1353.81,262.11 1354.79,260.49 1355.79,258.88 1356.79,257.29 1357.79,255.71 1358.81,254.15 1359.84,252.6 1360.87,251.07 1361.91,249.55 1362.96,248.05 1364.02,246.56 1365.09,245.08 1366.17,243.62 1367.25,242.17 1368.35,240.74 1369.45,239.32 1370.56,237.92 1371.68,236.53 1372.81,235.15 1373.94,233.79 1375.09,232.44 1376.24,231.1 1377.4,229.78 1378.58,228.47 1379.75,227.17 1380.94,225.89 1382.14,224.62 1383.35,223.36 1384.56,222.12 1385.78,220.88 1387.01,219.66 1388.25,218.46 1389.5,217.26 1390.76,216.08 1392.03,214.91 1393.3,213.75 1394.59,212.6 1395.88,211.46 1397.18,210.34 1398.49,209.23 1399.81,208.13 1401.14,207.04 1402.48,205.96 1403.82,204.89 1405.18,203.83 1406.54,202.79 1407.92,201.75 1409.3,200.73 1410.69,199.72 1412.09,198.71 1413.49,197.72 1414.91,196.74 1416.34,195.76 1417.77,194.8 1419.22,193.85 1420.67,192.9 1422.13,191.97 1423.6,191.05 1425.08,190.13 1426.57,189.23 1428.07,188.33 1429.57,187.45 1431.09,186.57 1432.61,185.7 1434.15,184.84 1435.69,183.99 1437.24,183.15 1438.8,182.31 1440.37,181.49 1441.95,180.67 1443.54,179.87 1445.14,179.07 1446.75,178.27 1448.36,177.49 1449.99,176.71 1451.62,175.95 1453.26,175.19 1454.92,174.43 1456.58,173.69 1458.25,172.95 1459.93,172.22 1461.62,171.5 1463.31,170.78 1465.02,170.08 1466.74,169.37 1468.46,168.68 1470.2,167.99 1471.94,167.31 1473.7,166.64 1475.46,165.97 1477.23,165.31 1479.01,164.66 1480.8,164.01 1482.6,163.37 1484.41,162.74 1486.23,162.11 1488.06,161.49 1489.89,160.87 1491.74,160.27 1493.6,159.66 1495.46,159.06 1497.34,158.47 1499.22,157.89 1501.11,157.31 1503.01,156.73 1504.93,156.16 1506.85,155.6 1508.78,155.04 1510.72,154.49 1512.67,153.94 1514.63,153.4 1516.59,152.86 1518.57,152.33 1520.56,151.81 1522.56,151.29 1524.56,150.77 1526.58,150.26 1528.6,149.75 1530.64,149.25 1532.68,148.75 1534.73,148.26 1536.8,147.77 1538.87,147.29 1540.95,146.81 1543.04,146.34 1545.14,145.87 1547.25,145.41 1549.37,144.95 1551.5,144.49 1553.64,144.04 1555.79,143.59 1557.95,143.15 1560.12,142.71 1562.29,142.27 1564.48,141.84 1566.68,141.41 1568.88,140.99 1571.1,140.57 1573.33,140.16 1575.56,139.74 1577.81,139.34 1580.06,138.93 1582.32,138.53 1584.6,138.13 1586.88,137.74 1589.17,137.35 1591.48,136.96 1593.79,136.58 1596.11,136.2 1598.44,135.83 1600.78,135.45 1603.14,135.09 1605.5,134.72 1607.87,134.36 1610.25,134 1612.64,133.64 1615.04,133.29 1617.45,132.94 1619.87,132.59 1622.29,132.25 1624.73,131.91 1627.18,131.57 1629.64,131.24 1632.11,130.9 1634.59,130.57 1637.07,130.25 1639.57,129.93 1642.08,129.61 1644.6,129.29 1647.12,128.97 1649.66,128.66 1652.21,128.35 1654.76,128.04 1657.33,127.74 1659.91,127.44 1662.49,127.14 1665.09,126.84 1667.69,126.55 1670.31,126.26 1672.94,125.97 1675.57,125.68 1678.22,125.4 1680.87,125.12 1683.54,124.84 1686.21,124.56 1688.9,124.29 1691.59,124.01 1694.3,123.74 1697.01,123.48 1699.74,123.21 1702.47,122.95 1705.22,122.69 1707.97,122.43 1710.74,122.17 1713.51,121.92 1716.3,121.66 1719.09,121.41 1721.9,121.16 1724.71,120.92 1727.53,120.67 1730.37,120.43 1733.21,120.19 1736.07,119.95 1738.93,119.71 1741.81,119.48 1744.69,119.25 1747.59,119.02 1750.49,118.79 1753.41,118.56 1756.33,118.33 1759.27,118.11 1762.21,117.89 1765.17,117.67 1768.14,117.45 1771.11,117.23 1774.1,117.02 1777.09,116.8 1780.1,116.59 1783.11,116.38 1786.14,116.17 1789.18,115.97 1792.22,115.76 1795.28,115.56 1798.35,115.36 1801.42,115.16 1804.51,114.96 1807.61,114.76 1810.71,114.56 1813.83,114.37 1816.96,114.18 1820.1,113.99 1823.25,113.8 1826.4,113.61 1829.57,113.42 1832.75,113.24 1835.94,113.05 1839.14,112.87 1842.35,112.69 1845.57,112.51 1848.8,112.33 1852.04,112.15 1855.29,111.98 1858.55,111.8 1861.82,111.63 1865.1,111.46 1868.39,111.28 1871.69,111.11 1875.01,110.95 1878.33,110.78 1881.66,110.61 1885,110.45 1888.36,110.29 1891.72,110.12 1895.09,109.96 1898.48,109.8 1901.87,109.64 1905.28,109.49 1908.69,109.33 1912.12,109.17 1915.55,109.02 1919,108.87"/>
<polyline fill="none" stroke="#1a1a1a" stroke-width="1.65" stroke-linejoin="round" points="1291.5,501.3 1291.5,501.29 1291.51,501.24 1291.51,501.16 1291.52,501.04 1291.54,500.87 1291.56,500.66 1291.59,500.41 1291.61,500.1 1291.65,499.75 1291.69,499.35 1291.73,498.89 1291.78,498.39 1291.83,497.83 1291.89,497.23 1291.96,496.57 1292.03,495.85 1292.1,495.09 1292.18,494.27 1292.27,493.4 1292.36,492.47 1292.46,491.49 1292.56,490.46 1292.67,489.38 1292.79,488.25 1292.91,487.06 1293.03,485.82 1293.17,484.54 1293.31,483.2 1293.45,481.81 1293.6,480.37 1293.76,478.89 1293.92,477.36 1294.09,475.78 1294.27,474.16 1294.45,472.49 1294.64,470.78 1294.84,469.02 1295.04,467.22 1295.24,465.39 1295.46,463.51 1295.68,461.59 1295.91,459.64 1296.14,457.65 1296.38,455.62 1296.63,453.56 1296.88,451.47 1297.15,449.34 1297.41,447.19 1297.69,445 1297.97,442.79 1298.26,440.55 1298.55,438.29 1298.85,436 1299.16,433.68 1299.48,431.35 1299.8,428.99 1300.13,426.61 1300.47,424.22 1300.81,421.81 1301.16,419.38 1301.52,416.94 1301.88,414.48 1302.26,412.01 1302.63,409.53 1303.02,407.04 1303.41,404.54 1303.82,402.03 1304.22,399.51 1304.64,396.99 1305.06,394.46 1305.49,391.93 1305.93,389.4 1306.37,386.86 1306.82,384.32 1307.28,381.79 1307.75,379.25 1308.22,376.71 1308.71,374.18 1309.2,371.64 1309.69,369.12 1310.2,366.59 1310.71,364.08 1311.23,361.56 1311.75,359.06 1312.29,356.56 1312.83,354.07 1313.38,351.59 1313.94,349.12 1314.5,346.65 1315.07,344.2 1315.65,341.76 1316.24,339.33 1316.84,336.91 1317.44,334.5 1318.05,332.11 1318.67,329.73 1319.3,327.36 1319.93,325.01 1320.57,322.67 1321.22,320.34 1321.88,318.03 1322.55,315.74 1323.22,313.46 1323.9,311.19 1324.59,308.94 1325.29,306.71 1325.99,304.5 1326.71,302.3 1327.43,300.11 1328.16,297.95 1328.89,295.8 1329.64,293.67 1330.39,291.55 1331.15,289.45 1331.92,287.38 1332.7,285.31 1333.48,283.27 1334.28,281.24 1335.08,279.23 1335.89,277.24 1336.71,275.27 1337.53,273.31 1338.37,271.37 1339.21,269.45 1340.06,267.55 1340.92,265.66 1341.79,263.8 1342.66,261.95 1343.55,260.12 1344.44,258.3 1345.34,256.51 1346.24,254.73 1347.16,252.97 1348.09,251.22 1349.02,249.5 1349.96,247.79 1350.91,246.1 1351.87,244.42 1352.84,242.76 1353.81,241.12 1354.79,239.5 1355.79,237.89 1356.79,236.3 1357.79,234.73 1358.81,233.17 1359.84,231.63 1360.87,230.1 1361.91,228.59 1362.96,227.1 1364.02,225.62 1365.09,224.16 1366.17,222.71 1367.25,221.28 1368.35,219.87 1369.45,218.47 1370.56,217.08 1371.68,215.71 1372.81,214.35 1373.94,213.01 1375.09,211.69 1376.24,210.37 1377.4,209.08 1378.58,207.79 1379.75,206.52 1380.94,205.27 1382.14,204.02 1383.35,202.8 1384.56,201.58 1385.78,200.38 1387.01,199.19 1388.25,198.01 1389.5,196.85 1390.76,195.7 1392.03,194.56 1393.3,193.44 1394.59,192.32 1395.88,191.22 1397.18,190.13 1398.49,189.06 1399.81,187.99 1401.14,186.94 1402.48,185.9 1403.82,184.87 1405.18,183.85 1406.54,182.84 1407.92,181.84 1409.3,180.86 1410.69,179.88 1412.09,178.92 1413.49,177.96 1414.91,177.02 1416.34,176.09 1417.77,175.16 1419.22,174.25 1420.67,173.35 1422.13,172.45 1423.6,171.57 1425.08,170.69 1426.57,169.83 1428.07,168.97 1429.57,168.13 1431.09,167.29 1432.61,166.46 1434.15,165.64 1435.69,164.83 1437.24,164.03 1438.8,163.24 1440.37,162.46 1441.95,161.68 1443.54,160.91 1445.14,160.15 1446.75,159.4 1448.36,158.66 1449.99,157.92 1451.62,157.2 1453.26,156.48 1454.92,155.76 1456.58,155.06 1458.25,154.36 1459.93,153.67 1461.62,152.99 1463.31,152.32 1465.02,151.65 1466.74,150.99 1468.46,150.33 1470.2,149.68 1471.94,149.04 1473.7,148.41 1475.46,147.78 1477.23,147.16 1479.01,146.55 1480.8,145.94 1482.6,145.34 1484.41,144.74 1486.23,144.15 1488.06,143.57 1489.89,142.99 1491.74,142.42 1493.6,141.85 1495.46,141.29 1497.34,140.74 1499.22,140.19 1501.11,139.65 1503.01,139.11 1504.93,138.58 1506.85,138.05 1508.78,137.53 1510.72,137.02 1512.67,136.5 1514.63,136 1516.59,135.5 1518.57,135 1520.56,134.51 1522.56,134.03 1524.56,133.54 1526.58,133.07 1528.6,132.6 1530.64,132.13 1532.68,131.67 1534.73,131.21 1536.8,130.76 1538.87,130.31 1540.95,129.86 1543.04,129.42 1545.14,128.99 1547.25,128.55 1549.37,128.13 1551.5,127.7 1553.64,127.28 1555.79,126.87 1557.95,126.46 1560.12,126.05 1562.29,125.65 1564.48,125.25 1566.68,124.85 1568.88,124.46 1571.1,124.07 1573.33,123.69 1575.56,123.3 1577.81,122.93 1580.06,122.55 1582.32,122.18 1584.6,121.82 1586.88,121.45 1589.17,121.09 1591.48,120.74 1593.79,120.38 1596.11,120.03 1598.44,119.68 1600.78,119.34 1603.14,119 1605.5,118.66 1607.87,118.33 1610.25,118 1612.64,117.67 1615.04,117.34 1617.45,117.02 1619.87,116.7 1622.29,116.39 1624.73,116.07 1627.18,115.76 1629.64,115.45 1632.11,115.15 1634.59,114.84 1637.07,114.54 1639.57,114.25 1642.08,113.95 1644.6,113.66 1647.12,113.37 1649.66,113.08 1652.21,112.8 1654.76,112.52 1657.33,112.24 1659.91,111.96 1662.49,111.69 1665.09,111.42 1667.69,111.15 1670.31,110.88 1672.94,110.61 1675.57,110.35 1678.22,110.09 1680.87,109.83 1683.54,109.58 1686.21,109.32 1688.9,109.07 1691.59,108.82 1694.3,108.57 1697.01,108.33 1699.74,108.09 1702.47,107.84 1705.22,107.61 1707.97,107.37 1710.74,107.13 1713.51,106.9 1716.3,106.67 1719.09,106.44 1721.9,106.21 1724.71,105.99 1727.53,105.76 1730.37,105.54 1733.21,105.32 1736.07,105.1 1738.93,104.89 1741.81,104.67 1744.69,104.46 1747.59,104.25 1750.49,104.04 1753.41,103.83 1756.33,103.63 1759.27,103.42 1762.21,103.22 1765.17,103.02 1768.14,102.82 1771.11,102.62 1774.1,102.42 1777.09,102.23 1780.1,102.04 1783.11,101.85 1786.14,101.66 1789.18,101.47 1792.22,101.28 1795.28,101.09 1798.35,100.91 1801.42,100.73 1804.51,100.55 1807.61,100.37 1810.71,100.19 1813.83,100.01 1816.96,99.84 1820.1,99.66 1823.25,99.49 1826.4,99.32 1829.57,99.15 1832.75,98.98 1835.94,98.81 1839.14,98.65 1842.35,98.48 1845.57,98.32 1848.8,98.15 1852.04,97.99 1855.29,97.83 1858.55,97.67 1861.82,97.52 1865.1,97.36 1868.39,97.2 1871.69,97.05 1875.01,96.9 1878.33,96.75 1881.66,96.59 1885,96.45 1888.36,96.3 1891.72,96.15 1895.09,96 1898.48,95.86 1901.87,95.71 1905.28,95.57 1908.69,95.43 1912.12,95.29 1915.55,95.15 1919,95.01"/>
<line x1="1291.5" y1="83.15" x2="1291.5" y2="502.2" stroke="#000" stroke-width="1.8" stroke-linecap="butt"/>
<line x1="1274.5" y1="501.3" x2="1919.9" y2="501.3" stroke="#000" stroke-width="1.8" stroke-linecap="butt"/>
<line x1="1274.5" y1="501.3" x2="1291.5" y2="501.3" stroke="#000" stroke-width="1.8" stroke-linecap="butt"/>
<text x="1269" y="512.7" font-size="32" text-anchor="end" fill="#1e1e1e" font-weight="normal" stroke="#fff" stroke-width="0.6" >0</text>
<line x1="1274.5" y1="417.85" x2="1291.5" y2="417.85" stroke="#000" stroke-width="1.8" stroke-linecap="butt"/>
<text x="1269" y="429.25" font-size="32" text-anchor="end" fill="#1e1e1e" font-weight="normal" stroke="#fff" stroke-width="0.6" >1</text>
<line x1="1274.5" y1="334.4" x2="1291.5" y2="334.4" stroke="#000" stroke-width="1.8" stroke-linecap="butt"/>
<text x="1269" y="345.8" font-size="32" text-anchor="end" fill="#1e1e1e" font-weight="normal" stroke="#fff" stroke-width="0.6" >2</text>
<line x1="1274.5" y1="250.95" x2="1291.5" y2="250.95" stroke="#000" stroke-width="1.8" stroke-linecap="butt"/>
<text x="1269" y="262.35" font-size="32" text-anchor="end" fill="#1e1e1e" font-weight="normal" stroke="#fff" stroke-width="0.6" >3</text>
<line x1="1274.5" y1="167.5" x2="1291.5" y2="167.5" stroke="#000" stroke-width="1.8" stroke-linecap="butt"/>
<text x="1269" y="178.9" font-size="32" text-anchor="end" fill="#1e1e1e" font-weight="normal" stroke="#fff" stroke-width="0.6" >4</text>
<line x1="1274.5" y1="84.05" x2="1291.5" y2="84.05" stroke="#000" stroke-width="1.8" stroke-linecap="butt"/>
<text x="1269" y="95.45" font-size="32" text-anchor="end" fill="#1e1e1e" font-weight="normal" stroke="#fff" stroke-width="0.6" >5</text>
<line x1="1291.5" y1="501.3" x2="1291.5" y2="518.3" stroke="#000" stroke-width="1.8" stroke-linecap="butt"/>
<text x="1300" y="548.3" font-size="31.5" text-anchor="end" fill="#1e1e1e" font-weight="normal" stroke="#fff" stroke-width="0.6" transform="rotate(-45 1300 548.3)">0</text>
<line x1="1354.25" y1="501.3" x2="1354.25" y2="518.3" stroke="#000" stroke-width="1.8" stroke-linecap="butt"/>
<text x="1362.75" y="548.3" font-size="31.5" text-anchor="end" fill="#1e1e1e" font-weight="normal" stroke="#fff" stroke-width="0.6" transform="rotate(-45 1362.75 548.3)">100</text>
<line x1="1417" y1="501.3" x2="1417" y2="518.3" stroke="#000" stroke-width="1.8" stroke-linecap="butt"/>
<text x="1425.5" y="548.3" font-size="31.5" text-anchor="end" fill="#1e1e1e" font-weight="normal" stroke="#fff" stroke-width="0.6" transform="rotate(-45 1425.5 548.3)">200</text>
<line x1="1479.75" y1="501.3" x2="1479.75" y2="518.3" stroke="#000" stroke-width="1.8" stroke-linecap="butt"/>
<text x="1488.25" y="548.3" font-size="31.5" text-anchor="end" fill="#1e1e1e" font-weight="normal" stroke="#fff" stroke-width="0.6" transform="rotate(-45 1488.25 548.3)">300</text>
<line x1="1542.5" y1="501.3" x2="1542.5" y2="518.3" stroke="#000" stroke-width="1.8" stroke-linecap="butt"/>
<text x="1551" y="548.3" font-size="31.5" text-anchor="end" fill="#1e1e1e" font-weight="normal" stroke="#fff" stroke-width="0.6" transform="rotate(-45 1551 548.3)">400</text>
<line x1="1605.25" y1="501.3" x2="1605.25" y2="518.3" stroke="#000" stroke-width="1.8" stroke-linecap="butt"/>
<text x="1613.75" y="548.3" font-size="31.5" text-anchor="end" fill="#1e1e1e" font-weight="normal" stroke="#fff" stroke-width="0.6" transform="rotate(-45 1613.75 548.3)">500</text>
<line x1="1668" y1="501.3" x2="1668" y2="518.3" stroke="#000" stroke-width="1.8" stroke-linecap="butt"/>
<text x="1676.5" y="548.3" font-size="31.5" text-anchor="end" fill="#1e1e1e" font-weight="normal" stroke="#fff" stroke-width="0.6" transform="rotate(-45 1676.5 548.3)">600</text>
<line x1="1730.75" y1="501.3" x2="1730.75" y2="518.3" stroke="#000" stroke-width="1.8" stroke-linecap="butt"/>
<text x="1739.25" y="548.3" font-size="31.5" text-anchor="end" fill="#1e1e1e" font-weight="normal" stroke="#fff" stroke-width="0.6" transform="rotate(-45 1739.25 548.3)">700</text>
<line x1="1793.5" y1="501.3" x2="1793.5" y2="518.3" stroke="#000" stroke-width="1.8" stroke-linecap="butt"/>
<text x="1802" y="548.3" font-size="31.5" text-anchor="end" fill="#1e1e1e" font-weight="normal" stroke="#fff" stroke-width="0.6" transform="rotate(-45 1802 548.3)">800</text>
<line x1="1856.25" y1="501.3" x2="1856.25" y2="518.3" stroke="#000" stroke-width="1.8" stroke-linecap="butt"/>
<text x="1864.75" y="548.3" font-size="31.5" text-anchor="end" fill="#1e1e1e" font-weight="normal" stroke="#fff" stroke-width="0.6" transform="rotate(-45 1864.75 548.3)">900</text>
<line x1="1919" y1="501.3" x2="1919" y2="518.3" stroke="#000" stroke-width="1.8" stroke-linecap="butt"/>
<text x="1927.5" y="548.3" font-size="31.5" text-anchor="end" fill="#1e1e1e" font-weight="normal" stroke="#fff" stroke-width="0.6" transform="rotate(-45 1927.5 548.3)">1000</text>
<text x="1605.25" y="647.5" font-size="32.5" text-anchor="middle" fill="#000" font-weight="normal" >Substrate2 [µM]</text>
<text x="1228" y="290" font-size="33" text-anchor="middle" fill="#000" font-weight="normal" transform="rotate(-90 1228 290)">V [Au/min *1000]</text>
<circle cx="1301.29" cy="496.5" r="10.35" fill="#d4d4d4" stroke="#1a1a1a" stroke-width="1.5"/>
<circle cx="1330.72" cy="471.1" r="10.35" fill="#d4d4d4" stroke="#1a1a1a" stroke-width="1.5"/>
<circle cx="1369.94" cy="459.8" r="10.35" fill="#d4d4d4" stroke="#1a1a1a" stroke-width="1.5"/>
<circle cx="1448.38" cy="434.6" r="10.35" fill="#d4d4d4" stroke="#1a1a1a" stroke-width="1.5"/>
<circle cx="1605.25" cy="386.5" r="10.35" fill="#d4d4d4" stroke="#1a1a1a" stroke-width="1.5"/>
<circle cx="1919" cy="344.9" r="10.35" fill="#d4d4d4" stroke="#1a1a1a" stroke-width="1.5"/>
<circle cx="1301.29" cy="475" r="10.35" fill="#808080" stroke="#1a1a1a" stroke-width="1.5"/>
<circle cx="1330.72" cy="424.1" r="10.35" fill="#808080" stroke="#1a1a1a" stroke-width="1.5"/>
<circle cx="1369.94" cy="390.4" r="10.35" fill="#808080" stroke="#1a1a1a" stroke-width="1.5"/>
<circle cx="1448.38" cy="361.6" r="10.35" fill="#808080" stroke="#1a1a1a" stroke-width="1.5"/>
<circle cx="1605.25" cy="307.5" r="10.35" fill="#808080" stroke="#1a1a1a" stroke-width="1.5"/>
<circle cx="1919" cy="255.6" r="10.35" fill="#808080" stroke="#1a1a1a" stroke-width="1.5"/>
<circle cx="1301.29" cy="444" r="10.35" fill="#92c1f5" stroke="#1a1a1a" stroke-width="1.5"/>
<circle cx="1330.72" cy="361.9" r="10.35" fill="#92c1f5" stroke="#1a1a1a" stroke-width="1.5"/>
<circle cx="1369.94" cy="332.8" r="10.35" fill="#92c1f5" stroke="#1a1a1a" stroke-width="1.5"/>
<circle cx="1448.38" cy="280.6" r="10.35" fill="#92c1f5" stroke="#1a1a1a" stroke-width="1.5"/>
<circle cx="1605.25" cy="234.7" r="10.35" fill="#92c1f5" stroke="#1a1a1a" stroke-width="1.5"/>
<circle cx="1919" cy="166.6" r="10.35" fill="#92c1f5" stroke="#1a1a1a" stroke-width="1.5"/>
<circle cx="1301.29" cy="430.8" r="10.35" fill="#55a5f2" stroke="#1a1a1a" stroke-width="1.5"/>
<circle cx="1330.72" cy="328.3" r="10.35" fill="#55a5f2" stroke="#1a1a1a" stroke-width="1.5"/>
<circle cx="1369.94" cy="294.4" r="10.35" fill="#55a5f2" stroke="#1a1a1a" stroke-width="1.5"/>
<circle cx="1448.38" cy="231.5" r="10.35" fill="#55a5f2" stroke="#1a1a1a" stroke-width="1.5"/>
<circle cx="1605.25" cy="150.5" r="10.35" fill="#55a5f2" stroke="#1a1a1a" stroke-width="1.5"/>
<circle cx="1301.29" cy="417" r="10.35" fill="#5a5aff" stroke="#1a1a1a" stroke-width="1.5"/>
<circle cx="1330.72" cy="339.5" r="10.35" fill="#5a5aff" stroke="#1a1a1a" stroke-width="1.5"/>
<circle cx="1369.94" cy="288" r="10.35" fill="#5a5aff" stroke="#1a1a1a" stroke-width="1.5"/>
<circle cx="1448.38" cy="246" r="10.35" fill="#5a5aff" stroke="#1a1a1a" stroke-width="1.5"/>
<circle cx="1605.25" cy="184.9" r="10.35" fill="#5a5aff" stroke="#1a1a1a" stroke-width="1.5"/>
<circle cx="1919" cy="112" r="10.35" fill="#5a5aff" stroke="#1a1a1a" stroke-width="1.5"/>
<circle cx="1301.29" cy="416.4" r="10.35" fill="#0000ff" stroke="#1a1a1a" stroke-width="1.5"/>
<circle cx="1330.72" cy="333.6" r="10.35" fill="#0000ff" stroke="#1a1a1a" stroke-width="1.5"/>
<circle cx="1369.94" cy="281" r="10.35" fill="#0000ff" stroke="#1a1a1a" stroke-width="1.5"/>
<circle cx="1448.38" cy="245.9" r="10.35" fill="#0000ff" stroke="#1a1a1a" stroke-width="1.5"/>
<circle cx="1605.25" cy="163.4" r="10.35" fill="#0000ff" stroke="#1a1a1a" stroke-width="1.5"/>
<circle cx="1919" cy="120.6" r="10.35" fill="#0000ff" stroke="#1a1a1a" stroke-width="1.5"/>
<circle cx="1291.5" cy="501.2" r="10.35" fill="#0000c8" stroke="#1a1a1a" stroke-width="1.5"/>
<circle cx="1301.29" cy="386.6" r="10.35" fill="#0000c8" stroke="#1a1a1a" stroke-width="1.5"/>
<circle cx="1330.72" cy="290" r="10.35" fill="#0000c8" stroke="#1a1a1a" stroke-width="1.5"/>
<circle cx="1369.94" cy="251.2" r="10.35" fill="#0000c8" stroke="#1a1a1a" stroke-width="1.5"/>
<circle cx="1448.38" cy="182.4" r="10.35" fill="#0000c8" stroke="#1a1a1a" stroke-width="1.5"/>
<circle cx="1605.25" cy="174.6" r="10.35" fill="#0000c8" stroke="#1a1a1a" stroke-width="1.5"/>
<circle cx="1919" cy="101.2" r="10.35" fill="#0000c8" stroke="#1a1a1a" stroke-width="1.5"/>
<circle cx="1301.29" cy="393.2" r="10.35" fill="#000000" stroke="#1a1a1a" stroke-width="1.5"/>
<circle cx="1330.72" cy="286.1" r="10.35" fill="#000000" stroke="#1a1a1a" stroke-width="1.5"/>
<circle cx="1369.94" cy="244.8" r="10.35" fill="#000000" stroke="#1a1a1a" stroke-width="1.5"/>
<circle cx="1448.38" cy="195.2" r="10.35" fill="#000000" stroke="#1a1a1a" stroke-width="1.5"/>
<circle cx="1605.25" cy="112.4" r="10.35" fill="#000000" stroke="#1a1a1a" stroke-width="1.5"/>
<text x="1963" y="46" font-size="36.3" text-anchor="start" fill="#000" font-weight="bold" >[Compound]</text>
<line x1="2029.4" y1="77.5" x2="2029.4" y2="478" stroke="#000" stroke-width="4.6" stroke-linecap="butt"/>
<polygon points="2013,474.5 2045.8,474.5 2029.4,507.7" fill="#000"/>
<text x="2050.5" y="112" font-size="36" text-anchor="start" fill="#000" font-weight="normal" >0µM</text>
<text x="2073" y="492.5" font-size="36" text-anchor="start" fill="#000" font-weight="normal" >5µM</text>
<line x1="406.9" y1="1207.6" x2="406.9" y2="970.05" stroke="#000" stroke-width="1.8" stroke-linecap="butt"/>
<line x1="406.9" y1="944.4" x2="406.9" y2="804.36" stroke="#000" stroke-width="1.8" stroke-linecap="butt"/>
<line x1="392.7" y1="1206.7" x2="907.8" y2="1206.7" stroke="#000" stroke-width="1.8" stroke-linecap="butt"/>
<line x1="393.1" y1="1206.7" x2="406.9" y2="1206.7" stroke="#000" stroke-width="1.8" stroke-linecap="butt"/>
<text x="389.5" y="1215.9" font-size="25.6" text-anchor="end" fill="#1e1e1e" font-weight="normal" stroke="#fff" stroke-width="0.25" >0</text>
<line x1="393.1" y1="1159.37" x2="406.9" y2="1159.37" stroke="#000" stroke-width="1.8" stroke-linecap="butt"/>
<text x="389.5" y="1168.57" font-size="25.6" text-anchor="end" fill="#1e1e1e" font-weight="normal" stroke="#fff" stroke-width="0.25" >50</text>
<line x1="393.1" y1="1112.04" x2="406.9" y2="1112.04" stroke="#000" stroke-width="1.8" stroke-linecap="butt"/>
<text x="389.5" y="1121.24" font-size="25.6" text-anchor="end" fill="#1e1e1e" font-weight="normal" stroke="#fff" stroke-width="0.25" >100</text>
<line x1="393.1" y1="1064.71" x2="406.9" y2="1064.71" stroke="#000" stroke-width="1.8" stroke-linecap="butt"/>
<text x="389.5" y="1073.91" font-size="25.6" text-anchor="end" fill="#1e1e1e" font-weight="normal" stroke="#fff" stroke-width="0.25" >150</text>
<line x1="393.1" y1="1017.38" x2="406.9" y2="1017.38" stroke="#000" stroke-width="1.8" stroke-linecap="butt"/>
<text x="389.5" y="1026.58" font-size="25.6" text-anchor="end" fill="#1e1e1e" font-weight="normal" stroke="#fff" stroke-width="0.25" >200</text>
<line x1="400" y1="970.05" x2="415.8" y2="970.05" stroke="#000" stroke-width="1.8" stroke-linecap="butt"/>
<text x="389.5" y="979.25" font-size="25.6" text-anchor="end" fill="#1e1e1e" font-weight="normal" stroke="#fff" stroke-width="0.25" >250</text>
<line x1="398.2" y1="944.4" x2="415.8" y2="944.4" stroke="#000" stroke-width="1.8" stroke-linecap="butt"/>
<text x="389.5" y="953.6" font-size="25.6" text-anchor="end" fill="#1e1e1e" font-weight="normal" stroke="#fff" stroke-width="0.25" >500</text>
<line x1="393.1" y1="898.02" x2="406.9" y2="898.02" stroke="#000" stroke-width="1.8" stroke-linecap="butt"/>
<text x="389.5" y="907.22" font-size="25.6" text-anchor="end" fill="#1e1e1e" font-weight="normal" stroke="#fff" stroke-width="0.25" >550</text>
<line x1="393.1" y1="851.64" x2="406.9" y2="851.64" stroke="#000" stroke-width="1.8" stroke-linecap="butt"/>
<text x="389.5" y="860.84" font-size="25.6" text-anchor="end" fill="#1e1e1e" font-weight="normal" stroke="#fff" stroke-width="0.25" >600</text>
<line x1="393.1" y1="805.26" x2="406.9" y2="805.26" stroke="#000" stroke-width="1.8" stroke-linecap="butt"/>
<text x="389.5" y="814.46" font-size="25.6" text-anchor="end" fill="#1e1e1e" font-weight="normal" stroke="#fff" stroke-width="0.25" >650</text>
<line x1="406.9" y1="1206.7" x2="406.9" y2="1219.5" stroke="#000" stroke-width="1.8" stroke-linecap="butt"/>
<text x="406.9" y="1250.6" font-size="25.6" text-anchor="middle" fill="#1e1e1e" font-weight="normal" stroke="#fff" stroke-width="0.25" >0</text>
<line x1="506.9" y1="1206.7" x2="506.9" y2="1219.5" stroke="#000" stroke-width="1.8" stroke-linecap="butt"/>
<text x="506.9" y="1250.6" font-size="25.6" text-anchor="middle" fill="#1e1e1e" font-weight="normal" stroke="#fff" stroke-width="0.25" >1</text>
<line x1="606.9" y1="1206.7" x2="606.9" y2="1219.5" stroke="#000" stroke-width="1.8" stroke-linecap="butt"/>
<text x="606.9" y="1250.6" font-size="25.6" text-anchor="middle" fill="#1e1e1e" font-weight="normal" stroke="#fff" stroke-width="0.25" >2</text>
<line x1="706.9" y1="1206.7" x2="706.9" y2="1219.5" stroke="#000" stroke-width="1.8" stroke-linecap="butt"/>
<text x="706.9" y="1250.6" font-size="25.6" text-anchor="middle" fill="#1e1e1e" font-weight="normal" stroke="#fff" stroke-width="0.25" >3</text>
<line x1="806.9" y1="1206.7" x2="806.9" y2="1219.5" stroke="#000" stroke-width="1.8" stroke-linecap="butt"/>
<text x="806.9" y="1250.6" font-size="25.6" text-anchor="middle" fill="#1e1e1e" font-weight="normal" stroke="#fff" stroke-width="0.25" >4</text>
<line x1="906.9" y1="1206.7" x2="906.9" y2="1219.5" stroke="#000" stroke-width="1.8" stroke-linecap="butt"/>
<text x="906.9" y="1250.6" font-size="25.6" text-anchor="middle" fill="#1e1e1e" font-weight="normal" stroke="#fff" stroke-width="0.25" >5</text>
<text x="656.9" y="1290.8" font-size="24.4" text-anchor="middle" fill="#000" font-weight="bold" >Compound [µM]</text>
<text transform="translate(325.5 1047.5) rotate(-90)" font-size="25.5" fill="#000">K<tspan font-size="20" dy="6" dx="-2.6" font-weight="bold">m</tspan><tspan dy="-6" font-size="28" dx="-2"> [µM]</tspan></text>
<circle cx="406.9" cy="1197.42" r="9.9" fill="#f24040" stroke="#1a1a1a" stroke-width="1.5"/>
<circle cx="422.9" cy="1199.51" r="9.9" fill="#f24040" stroke="#1a1a1a" stroke-width="1.5"/>
<circle cx="437.9" cy="1196.76" r="9.9" fill="#f24040" stroke="#1a1a1a" stroke-width="1.5"/>
<circle cx="456.9" cy="1199.51" r="9.9" fill="#f24040" stroke="#1a1a1a" stroke-width="1.5"/>
<circle cx="496.9" cy="1198.65" r="9.9" fill="#f24040" stroke="#1a1a1a" stroke-width="1.5"/>
<circle cx="556.9" cy="1203.48" r="9.9" fill="#f24040" stroke="#1a1a1a" stroke-width="1.5"/>
<circle cx="686.9" cy="1189.09" r="9.9" fill="#f24040" stroke="#1a1a1a" stroke-width="1.5"/>
<circle cx="906.9" cy="1191.55" r="9.9" fill="#f24040" stroke="#1a1a1a" stroke-width="1.5"/>
<circle cx="406.9" cy="1135.42" r="9.9" fill="#0000ff" stroke="#1a1a1a" stroke-width="1.5"/>
<circle cx="422.9" cy="1156.81" r="9.9" fill="#0000ff" stroke="#1a1a1a" stroke-width="1.5"/>
<circle cx="437.9" cy="1116.77" r="9.9" fill="#0000ff" stroke="#1a1a1a" stroke-width="1.5"/>
<circle cx="456.9" cy="1112.7" r="9.9" fill="#0000ff" stroke="#1a1a1a" stroke-width="1.5"/>
<circle cx="496.9" cy="1107.31" r="9.9" fill="#0000ff" stroke="#1a1a1a" stroke-width="1.5"/>
<circle cx="556.9" cy="1093.11" r="9.9" fill="#0000ff" stroke="#1a1a1a" stroke-width="1.5"/>
<circle cx="686.9" cy="1006.02" r="9.9" fill="#0000ff" stroke="#1a1a1a" stroke-width="1.5"/>
<circle cx="906.9" cy="809.9" r="9.9" fill="#0000ff" stroke="#1a1a1a" stroke-width="1.5"/>
<circle cx="999.4" cy="1094.7" r="9.8" fill="#f24040" stroke="#1a1a1a" stroke-width="1.5"/>
<circle cx="999.4" cy="1144.3" r="9.8" fill="#0000ff" stroke="#1a1a1a" stroke-width="1.5"/>
<text x="1037" y="1101" font-size="24.8" fill="#1e1e1e" stroke="#fff" stroke-width="0.3">K<tspan font-size="17.5" dy="5.5" stroke="none">m</tspan><tspan dy="-5.5" dx="4.5">substrate1</tspan></text>
<text x="1037" y="1150.6" font-size="24.8" fill="#1e1e1e" stroke="#fff" stroke-width="0.3">K<tspan font-size="17.5" dy="5.5" stroke="none">m</tspan><tspan dy="-5.5" dx="4.5">substrate2</tspan></text>
<line x1="1369.5" y1="1206" x2="1369.5" y2="872.4" stroke="#000" stroke-width="1.8" stroke-linecap="butt"/>
<line x1="1357.3" y1="1205.1" x2="1870.15" y2="1205.1" stroke="#000" stroke-width="1.8" stroke-linecap="butt"/>
<line x1="1357.3" y1="1205.1" x2="1369.5" y2="1205.1" stroke="#000" stroke-width="1.8" stroke-linecap="butt"/>
<text x="1353" y="1214.3" font-size="25.6" text-anchor="end" fill="#1e1e1e" font-weight="normal" stroke="#fff" stroke-width="0.25" >0</text>
<line x1="1357.3" y1="1149.8" x2="1369.5" y2="1149.8" stroke="#000" stroke-width="1.8" stroke-linecap="butt"/>
<text x="1353" y="1159" font-size="25.6" text-anchor="end" fill="#1e1e1e" font-weight="normal" stroke="#fff" stroke-width="0.25" >1</text>
<line x1="1357.3" y1="1094.5" x2="1369.5" y2="1094.5" stroke="#000" stroke-width="1.8" stroke-linecap="butt"/>
<text x="1353" y="1103.7" font-size="25.6" text-anchor="end" fill="#1e1e1e" font-weight="normal" stroke="#fff" stroke-width="0.25" >2</text>
<line x1="1357.3" y1="1039.2" x2="1369.5" y2="1039.2" stroke="#000" stroke-width="1.8" stroke-linecap="butt"/>
<text x="1353" y="1048.4" font-size="25.6" text-anchor="end" fill="#1e1e1e" font-weight="normal" stroke="#fff" stroke-width="0.25" >3</text>
<line x1="1357.3" y1="983.9" x2="1369.5" y2="983.9" stroke="#000" stroke-width="1.8" stroke-linecap="butt"/>
<text x="1353" y="993.1" font-size="25.6" text-anchor="end" fill="#1e1e1e" font-weight="normal" stroke="#fff" stroke-width="0.25" >4</text>
<line x1="1357.3" y1="928.6" x2="1369.5" y2="928.6" stroke="#000" stroke-width="1.8" stroke-linecap="butt"/>
<text x="1353" y="937.8" font-size="25.6" text-anchor="end" fill="#1e1e1e" font-weight="normal" stroke="#fff" stroke-width="0.25" >5</text>
<line x1="1357.3" y1="873.3" x2="1369.5" y2="873.3" stroke="#000" stroke-width="1.8" stroke-linecap="butt"/>
<text x="1353" y="882.5" font-size="25.6" text-anchor="end" fill="#1e1e1e" font-weight="normal" stroke="#fff" stroke-width="0.25" >6</text>
<line x1="1369.5" y1="1205.1" x2="1369.5" y2="1217.9" stroke="#000" stroke-width="1.8" stroke-linecap="butt"/>
<text x="1369.5" y="1249.9" font-size="25.6" text-anchor="middle" fill="#1e1e1e" font-weight="normal" stroke="#fff" stroke-width="0.25" >0</text>
<line x1="1469.45" y1="1205.1" x2="1469.45" y2="1217.9" stroke="#000" stroke-width="1.8" stroke-linecap="butt"/>
<text x="1469.45" y="1249.9" font-size="25.6" text-anchor="middle" fill="#1e1e1e" font-weight="normal" stroke="#fff" stroke-width="0.25" >1</text>
<line x1="1569.4" y1="1205.1" x2="1569.4" y2="1217.9" stroke="#000" stroke-width="1.8" stroke-linecap="butt"/>
<text x="1569.4" y="1249.9" font-size="25.6" text-anchor="middle" fill="#1e1e1e" font-weight="normal" stroke="#fff" stroke-width="0.25" >2</text>
<line x1="1669.35" y1="1205.1" x2="1669.35" y2="1217.9" stroke="#000" stroke-width="1.8" stroke-linecap="butt"/>
<text x="1669.35" y="1249.9" font-size="25.6" text-anchor="middle" fill="#1e1e1e" font-weight="normal" stroke="#fff" stroke-width="0.25" >3</text>
<line x1="1769.3" y1="1205.1" x2="1769.3" y2="1217.9" stroke="#000" stroke-width="1.8" stroke-linecap="butt"/>
<text x="1769.3" y="1249.9" font-size="25.6" text-anchor="middle" fill="#1e1e1e" font-weight="normal" stroke="#fff" stroke-width="0.25" >4</text>
<line x1="1869.25" y1="1205.1" x2="1869.25" y2="1217.9" stroke="#000" stroke-width="1.8" stroke-linecap="butt"/>
<text x="1869.25" y="1249.9" font-size="25.6" text-anchor="middle" fill="#1e1e1e" font-weight="normal" stroke="#fff" stroke-width="0.25" >5</text>
<text x="1619.38" y="1290.8" font-size="24.4" text-anchor="middle" fill="#000" font-weight="bold" >Compound [µM]</text>
<text transform="translate(1315.5 1153) rotate(-90)" font-size="26.5" fill="#000">V<tspan font-size="18" dy="6" font-weight="bold">max</tspan><tspan dy="-6"> [Au/min *1000]</tspan></text>
<rect x="1361.5" y="903.48" width="17" height="17" fill="#0000ff" stroke="#1a1a1a" stroke-width="1.5"/>
<rect x="1377.49" y="941.41" width="17" height="17" fill="#0000ff" stroke="#1a1a1a" stroke-width="1.5"/>
<rect x="1392.48" y="933.78" width="17" height="17" fill="#0000ff" stroke="#1a1a1a" stroke-width="1.5"/>
<rect x="1411.47" y="935.5" width="17" height="17" fill="#0000ff" stroke="#1a1a1a" stroke-width="1.5"/>
<rect x="1451.45" y="924.27" width="17" height="17" fill="#0000ff" stroke="#1a1a1a" stroke-width="1.5"/>
<rect x="1511.42" y="965.19" width="17" height="17" fill="#0000ff" stroke="#1a1a1a" stroke-width="1.5"/>
<rect x="1641.36" y="1007.5" width="17" height="17" fill="#0000ff" stroke="#1a1a1a" stroke-width="1.5"/>
<rect x="1861.25" y="1026.02" width="17" height="17" fill="#0000ff" stroke="#1a1a1a" stroke-width="1.5"/>
<rect x="1361.5" y="929.25" width="17" height="17" fill="#f24040" stroke="#1a1a1a" stroke-width="1.5"/>
<rect x="1377.49" y="934.22" width="17" height="17" fill="#f24040" stroke="#1a1a1a" stroke-width="1.5"/>
<rect x="1392.48" y="961.87" width="17" height="17" fill="#f24040" stroke="#1a1a1a" stroke-width="1.5"/>
<rect x="1411.47" y="977.91" width="17" height="17" fill="#f24040" stroke="#1a1a1a" stroke-width="1.5"/>
<rect x="1451.45" y="980.12" width="17" height="17" fill="#f24040" stroke="#1a1a1a" stroke-width="1.5"/>
<rect x="1511.42" y="1012.75" width="17" height="17" fill="#f24040" stroke="#1a1a1a" stroke-width="1.5"/>
<rect x="1641.36" y="1036.7" width="17" height="17" fill="#f24040" stroke="#1a1a1a" stroke-width="1.5"/>
<rect x="1861.25" y="1098.47" width="17" height="17" fill="#f24040" stroke="#1a1a1a" stroke-width="1.5"/>
<rect x="1971.25" y="1132.25" width="16.5" height="16.5" fill="#f24040" stroke="#1a1a1a" stroke-width="1.5"/>
<rect x="1971.25" y="1182.05" width="16.5" height="16.5" fill="#0000ff" stroke="#1a1a1a" stroke-width="1.5"/>
<text x="2016.5" y="1147.5" font-size="24.3" fill="#1e1e1e" stroke="#fff" stroke-width="0.3">V<tspan font-size="17.3" dy="5.5" stroke="none">max</tspan><tspan dy="-5.5" dx="7">Substrate1</tspan></text>
<text x="2016.5" y="1197.3" font-size="24.3" fill="#1e1e1e" stroke="#fff" stroke-width="0.3">V<tspan font-size="17.3" dy="5.5" stroke="none">max</tspan><tspan dy="-5.5" dx="7">Substrate2</tspan></text>
</svg>
</body></html>
